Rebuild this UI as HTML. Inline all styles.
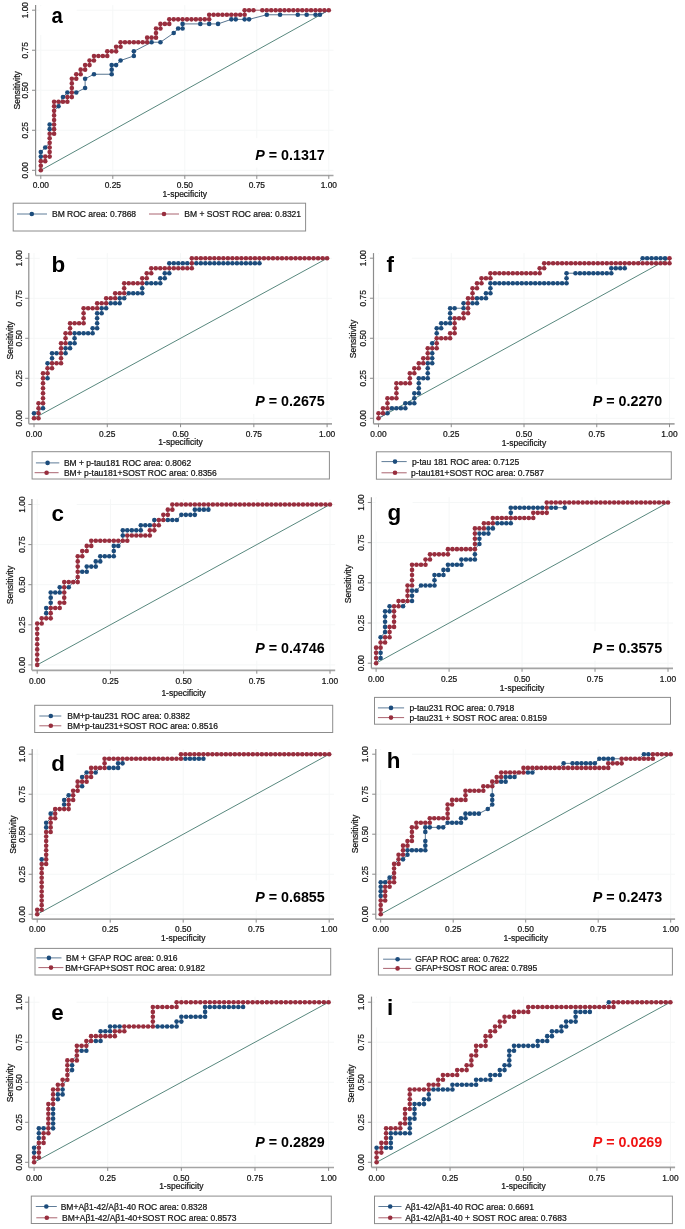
<!DOCTYPE html>
<html><head><meta charset="utf-8"><title>ROC curves</title>
<style>html,body{margin:0;padding:0;background:#fff;}svg{display:block;will-change:transform;filter:blur(0.35px);}text{font-family:"Liberation Sans",sans-serif;}.t{stroke:#141414;stroke-width:0.22px;}</style>
</head><body>
<svg width="685" height="1229" viewBox="0 0 685 1229">
<rect width="685" height="1229" fill="#fff"/>
<line x1="35.6" y1="170.3" x2="333.5" y2="170.3" stroke="#f5f7f7" stroke-width="1"/>
<line x1="40.8" y1="5.1" x2="40.8" y2="175.5" stroke="#f5f7f7" stroke-width="1"/>
<line x1="35.6" y1="130.28" x2="333.5" y2="130.28" stroke="#f5f7f7" stroke-width="1"/>
<line x1="112.8" y1="5.1" x2="112.8" y2="175.5" stroke="#f5f7f7" stroke-width="1"/>
<line x1="35.6" y1="90.25" x2="333.5" y2="90.25" stroke="#f5f7f7" stroke-width="1"/>
<line x1="184.8" y1="5.1" x2="184.8" y2="175.5" stroke="#f5f7f7" stroke-width="1"/>
<line x1="35.6" y1="50.22" x2="333.5" y2="50.22" stroke="#f5f7f7" stroke-width="1"/>
<line x1="256.8" y1="5.1" x2="256.8" y2="175.5" stroke="#f5f7f7" stroke-width="1"/>
<line x1="35.6" y1="10.2" x2="333.5" y2="10.2" stroke="#f5f7f7" stroke-width="1"/>
<line x1="328.8" y1="5.1" x2="328.8" y2="175.5" stroke="#f5f7f7" stroke-width="1"/>
<rect x="39.7" y="6.2" width="37" height="28.8" fill="#fff"/>
<rect x="245.2" y="138.2" width="81" height="29.5" fill="#fff"/>
<line x1="35.6" y1="5.1" x2="35.6" y2="175.5" stroke="#8c8c8c" stroke-width="1.2"/>
<line x1="35.6" y1="175.5" x2="333.5" y2="175.5" stroke="#a4a4a4" stroke-width="1.7"/>
<line x1="32" y1="170.3" x2="35.6" y2="170.3" stroke="#8c8c8c" stroke-width="1"/>
<line x1="40.8" y1="175.5" x2="40.8" y2="178.9" stroke="#8c8c8c" stroke-width="1"/>
<text transform="translate(24.9,170.3) rotate(-90)" y="2.94" font-size="8.4" text-anchor="middle" fill="#141414" class="t">0.00</text>
<text x="40.8" y="188.44" font-size="8.4" text-anchor="middle" fill="#141414" class="t">0.00</text>
<line x1="32" y1="130.28" x2="35.6" y2="130.28" stroke="#8c8c8c" stroke-width="1"/>
<line x1="112.8" y1="175.5" x2="112.8" y2="178.9" stroke="#8c8c8c" stroke-width="1"/>
<text transform="translate(24.9,130.28) rotate(-90)" y="2.94" font-size="8.4" text-anchor="middle" fill="#141414" class="t">0.25</text>
<text x="112.8" y="188.44" font-size="8.4" text-anchor="middle" fill="#141414" class="t">0.25</text>
<line x1="32" y1="90.25" x2="35.6" y2="90.25" stroke="#8c8c8c" stroke-width="1"/>
<line x1="184.8" y1="175.5" x2="184.8" y2="178.9" stroke="#8c8c8c" stroke-width="1"/>
<text transform="translate(24.9,90.25) rotate(-90)" y="2.94" font-size="8.4" text-anchor="middle" fill="#141414" class="t">0.50</text>
<text x="184.8" y="188.44" font-size="8.4" text-anchor="middle" fill="#141414" class="t">0.50</text>
<line x1="32" y1="50.22" x2="35.6" y2="50.22" stroke="#8c8c8c" stroke-width="1"/>
<line x1="256.8" y1="175.5" x2="256.8" y2="178.9" stroke="#8c8c8c" stroke-width="1"/>
<text transform="translate(24.9,50.22) rotate(-90)" y="2.94" font-size="8.4" text-anchor="middle" fill="#141414" class="t">0.75</text>
<text x="256.8" y="188.44" font-size="8.4" text-anchor="middle" fill="#141414" class="t">0.75</text>
<line x1="32" y1="10.2" x2="35.6" y2="10.2" stroke="#8c8c8c" stroke-width="1"/>
<line x1="328.8" y1="175.5" x2="328.8" y2="178.9" stroke="#8c8c8c" stroke-width="1"/>
<text transform="translate(24.9,10.2) rotate(-90)" y="2.94" font-size="8.4" text-anchor="middle" fill="#141414" class="t">1.00</text>
<text x="328.8" y="188.44" font-size="8.4" text-anchor="middle" fill="#141414" class="t">1.00</text>
<text transform="translate(16.7,90.3) rotate(-90)" y="3.06" font-size="8.5" text-anchor="middle" fill="#141414" class="t">Sensitivity</text>
<text x="184.8" y="197.36" font-size="8.5" text-anchor="middle" fill="#141414" class="t">1-specificity</text>
<line x1="40.8" y1="170.3" x2="328.8" y2="10.2" stroke="#58887e" stroke-width="1"/>
<path d="M40.8 161.15L40.8 156.58L40.8 152L45.23 147.43L49.66 142.85M49.66 133.71L49.66 129.13L49.66 124.56L54.09 124.56M54.09 110.83L58.52 106.26L62.95 97.11L67.38 92.54L76.25 92.54L85.11 87.96L85.11 78.81L93.97 74.24L111.69 74.24L111.69 69.67L111.69 65.09L116.12 65.09L120.55 60.52L133.85 55.94L133.85 51.37L151.57 42.22L160.43 42.22L173.72 33.07L178.15 28.5L182.58 28.5L182.58 23.92L200.31 23.92L209.17 23.92L218.03 23.92L231.32 19.35L235.75 19.35L244.62 19.35L249.05 19.35L266.77 14.77L280.06 14.77L297.78 14.77L306.65 14.77L315.51 14.77L319.94 14.77L328.8 10.2" fill="none" stroke="#587590" stroke-width="1"/>
<g fill="#1c4c7c"><circle cx="40.8" cy="156.58" r="2.3"/><circle cx="40.8" cy="152" r="2.3"/><circle cx="45.23" cy="147.43" r="2.3"/><circle cx="49.66" cy="129.13" r="2.3"/><circle cx="49.66" cy="124.56" r="2.3"/><circle cx="58.52" cy="106.26" r="2.3"/><circle cx="62.95" cy="97.11" r="2.3"/><circle cx="67.38" cy="92.54" r="2.3"/><circle cx="76.25" cy="92.54" r="2.3"/><circle cx="85.11" cy="87.96" r="2.3"/><circle cx="85.11" cy="78.81" r="2.3"/><circle cx="93.97" cy="74.24" r="2.3"/><circle cx="111.69" cy="74.24" r="2.3"/><circle cx="111.69" cy="69.67" r="2.3"/><circle cx="111.69" cy="65.09" r="2.3"/><circle cx="116.12" cy="65.09" r="2.3"/><circle cx="120.55" cy="60.52" r="2.3"/><circle cx="133.85" cy="55.94" r="2.3"/><circle cx="133.85" cy="51.37" r="2.3"/><circle cx="151.57" cy="42.22" r="2.3"/><circle cx="160.43" cy="42.22" r="2.3"/><circle cx="173.72" cy="33.07" r="2.3"/><circle cx="178.15" cy="28.5" r="2.3"/><circle cx="182.58" cy="28.5" r="2.3"/><circle cx="182.58" cy="23.92" r="2.3"/><circle cx="200.31" cy="23.92" r="2.3"/><circle cx="209.17" cy="23.92" r="2.3"/><circle cx="218.03" cy="23.92" r="2.3"/><circle cx="231.32" cy="19.35" r="2.3"/><circle cx="235.75" cy="19.35" r="2.3"/><circle cx="244.62" cy="19.35" r="2.3"/><circle cx="249.05" cy="19.35" r="2.3"/><circle cx="266.77" cy="14.77" r="2.3"/><circle cx="280.06" cy="14.77" r="2.3"/><circle cx="297.78" cy="14.77" r="2.3"/><circle cx="306.65" cy="14.77" r="2.3"/><circle cx="315.51" cy="14.77" r="2.3"/><circle cx="319.94" cy="14.77" r="2.3"/></g>
<polyline points="40.8,170.3 40.8,165.73 40.8,161.15 45.23,161.15 45.23,156.58 49.66,156.58 49.66,152 49.66,147.43 49.66,142.85 49.66,138.28 49.66,133.71 54.09,133.71 54.09,129.13 54.09,124.56 54.09,119.98 54.09,115.41 54.09,110.83 54.09,106.26 54.09,101.69 58.52,101.69 62.95,101.69 67.38,101.69 67.38,97.11 71.82,97.11 71.82,92.54 71.82,87.96 71.82,83.39 71.82,78.81 76.25,78.81 76.25,74.24 80.68,74.24 80.68,69.67 85.11,69.67 85.11,65.09 89.54,65.09 89.54,60.52 93.97,60.52 93.97,55.94 98.4,55.94 102.83,55.94 107.26,55.94 107.26,51.37 111.69,51.37 116.12,51.37 116.12,46.79 120.55,46.79 120.55,42.22 124.98,42.22 129.42,42.22 133.85,42.22 138.28,42.22 142.71,42.22 147.14,42.22 147.14,37.65 151.57,37.65 156,37.65 156,33.07 156,28.5 160.43,28.5 160.43,23.92 164.86,23.92 169.29,23.92 169.29,19.35 173.72,19.35 178.15,19.35 182.58,19.35 187.02,19.35 191.45,19.35 195.88,19.35 200.31,19.35 204.74,19.35 209.17,19.35 209.17,14.77 213.6,14.77 218.03,14.77 222.46,14.77 226.89,14.77 231.32,14.77 235.75,14.77 240.18,14.77 244.62,14.77 244.62,10.2 249.05,10.2 253.48,10.2 262.34,10.2 266.77,10.2 271.2,10.2 275.63,10.2 280.06,10.2 284.49,10.2 288.92,10.2 293.35,10.2 297.78,10.2 302.22,10.2 306.65,10.2 311.08,10.2 315.51,10.2 319.94,10.2 324.37,10.2 328.8,10.2" fill="none" stroke="#a0505c" stroke-width="1"/>
<g fill="#982e3e"><circle cx="40.8" cy="170.3" r="2.3"/><circle cx="40.8" cy="165.73" r="2.3"/><circle cx="40.8" cy="161.15" r="2.3"/><circle cx="45.23" cy="161.15" r="2.3"/><circle cx="45.23" cy="156.58" r="2.3"/><circle cx="49.66" cy="156.58" r="2.3"/><circle cx="49.66" cy="152" r="2.3"/><circle cx="49.66" cy="147.43" r="2.3"/><circle cx="49.66" cy="142.85" r="2.3"/><circle cx="49.66" cy="138.28" r="2.3"/><circle cx="49.66" cy="133.71" r="2.3"/><circle cx="54.09" cy="133.71" r="2.3"/><circle cx="54.09" cy="129.13" r="2.3"/><circle cx="54.09" cy="124.56" r="2.3"/><circle cx="54.09" cy="119.98" r="2.3"/><circle cx="54.09" cy="115.41" r="2.3"/><circle cx="54.09" cy="110.83" r="2.3"/><circle cx="54.09" cy="106.26" r="2.3"/><circle cx="54.09" cy="101.69" r="2.3"/><circle cx="58.52" cy="101.69" r="2.3"/><circle cx="62.95" cy="101.69" r="2.3"/><circle cx="67.38" cy="101.69" r="2.3"/><circle cx="67.38" cy="97.11" r="2.3"/><circle cx="71.82" cy="97.11" r="2.3"/><circle cx="71.82" cy="92.54" r="2.3"/><circle cx="71.82" cy="87.96" r="2.3"/><circle cx="71.82" cy="83.39" r="2.3"/><circle cx="71.82" cy="78.81" r="2.3"/><circle cx="76.25" cy="78.81" r="2.3"/><circle cx="76.25" cy="74.24" r="2.3"/><circle cx="80.68" cy="74.24" r="2.3"/><circle cx="80.68" cy="69.67" r="2.3"/><circle cx="85.11" cy="69.67" r="2.3"/><circle cx="85.11" cy="65.09" r="2.3"/><circle cx="89.54" cy="65.09" r="2.3"/><circle cx="89.54" cy="60.52" r="2.3"/><circle cx="93.97" cy="60.52" r="2.3"/><circle cx="93.97" cy="55.94" r="2.3"/><circle cx="98.4" cy="55.94" r="2.3"/><circle cx="102.83" cy="55.94" r="2.3"/><circle cx="107.26" cy="55.94" r="2.3"/><circle cx="107.26" cy="51.37" r="2.3"/><circle cx="111.69" cy="51.37" r="2.3"/><circle cx="116.12" cy="51.37" r="2.3"/><circle cx="116.12" cy="46.79" r="2.3"/><circle cx="120.55" cy="46.79" r="2.3"/><circle cx="120.55" cy="42.22" r="2.3"/><circle cx="124.98" cy="42.22" r="2.3"/><circle cx="129.42" cy="42.22" r="2.3"/><circle cx="133.85" cy="42.22" r="2.3"/><circle cx="138.28" cy="42.22" r="2.3"/><circle cx="142.71" cy="42.22" r="2.3"/><circle cx="147.14" cy="42.22" r="2.3"/><circle cx="147.14" cy="37.65" r="2.3"/><circle cx="151.57" cy="37.65" r="2.3"/><circle cx="156" cy="37.65" r="2.3"/><circle cx="156" cy="33.07" r="2.3"/><circle cx="156" cy="28.5" r="2.3"/><circle cx="160.43" cy="28.5" r="2.3"/><circle cx="160.43" cy="23.92" r="2.3"/><circle cx="164.86" cy="23.92" r="2.3"/><circle cx="169.29" cy="23.92" r="2.3"/><circle cx="169.29" cy="19.35" r="2.3"/><circle cx="173.72" cy="19.35" r="2.3"/><circle cx="178.15" cy="19.35" r="2.3"/><circle cx="182.58" cy="19.35" r="2.3"/><circle cx="187.02" cy="19.35" r="2.3"/><circle cx="191.45" cy="19.35" r="2.3"/><circle cx="195.88" cy="19.35" r="2.3"/><circle cx="200.31" cy="19.35" r="2.3"/><circle cx="204.74" cy="19.35" r="2.3"/><circle cx="209.17" cy="19.35" r="2.3"/><circle cx="209.17" cy="14.77" r="2.3"/><circle cx="213.6" cy="14.77" r="2.3"/><circle cx="218.03" cy="14.77" r="2.3"/><circle cx="222.46" cy="14.77" r="2.3"/><circle cx="226.89" cy="14.77" r="2.3"/><circle cx="231.32" cy="14.77" r="2.3"/><circle cx="235.75" cy="14.77" r="2.3"/><circle cx="240.18" cy="14.77" r="2.3"/><circle cx="244.62" cy="14.77" r="2.3"/><circle cx="244.62" cy="10.2" r="2.3"/><circle cx="249.05" cy="10.2" r="2.3"/><circle cx="253.48" cy="10.2" r="2.3"/><circle cx="262.34" cy="10.2" r="2.3"/><circle cx="266.77" cy="10.2" r="2.3"/><circle cx="271.2" cy="10.2" r="2.3"/><circle cx="275.63" cy="10.2" r="2.3"/><circle cx="280.06" cy="10.2" r="2.3"/><circle cx="284.49" cy="10.2" r="2.3"/><circle cx="288.92" cy="10.2" r="2.3"/><circle cx="293.35" cy="10.2" r="2.3"/><circle cx="297.78" cy="10.2" r="2.3"/><circle cx="302.22" cy="10.2" r="2.3"/><circle cx="306.65" cy="10.2" r="2.3"/><circle cx="311.08" cy="10.2" r="2.3"/><circle cx="315.51" cy="10.2" r="2.3"/><circle cx="319.94" cy="10.2" r="2.3"/><circle cx="324.37" cy="10.2" r="2.3"/><circle cx="328.8" cy="10.2" r="2.3"/></g>
<text transform="translate(51.5,23) scale(0.9,1)" font-size="22.4" font-weight="bold" fill="#000">a</text>
<text x="255.2" y="159.7" font-size="14.3" font-weight="bold" fill="#000"><tspan font-style="italic">P</tspan> = 0.1317</text>
<rect x="13.2" y="203.2" width="292.4" height="27.8" fill="none" stroke="#8c8c8c" stroke-width="1"/>
<line x1="17" y1="214" x2="47" y2="214" stroke="#5f7c98" stroke-width="1"/>
<circle cx="31.8" cy="214" r="2.3" fill="#1c4c7c"/>
<text x="52" y="217.06" font-size="8.5" fill="#141414" class="t">BM ROC area: 0.7868</text>
<line x1="149" y1="214" x2="179" y2="214" stroke="#aa6470" stroke-width="1"/>
<circle cx="164" cy="214" r="2.3" fill="#982e3e"/>
<text x="184.3" y="217.06" font-size="8.5" fill="#141414" class="t">BM + SOST ROC area: 0.8321</text>
<line x1="28.8" y1="418.3" x2="332" y2="418.3" stroke="#f5f7f7" stroke-width="1"/>
<line x1="34" y1="253.1" x2="34" y2="423.8" stroke="#f5f7f7" stroke-width="1"/>
<line x1="28.8" y1="378.3" x2="332" y2="378.3" stroke="#f5f7f7" stroke-width="1"/>
<line x1="107.28" y1="253.1" x2="107.28" y2="423.8" stroke="#f5f7f7" stroke-width="1"/>
<line x1="28.8" y1="338.3" x2="332" y2="338.3" stroke="#f5f7f7" stroke-width="1"/>
<line x1="180.55" y1="253.1" x2="180.55" y2="423.8" stroke="#f5f7f7" stroke-width="1"/>
<line x1="28.8" y1="298.3" x2="332" y2="298.3" stroke="#f5f7f7" stroke-width="1"/>
<line x1="253.83" y1="253.1" x2="253.83" y2="423.8" stroke="#f5f7f7" stroke-width="1"/>
<line x1="28.8" y1="258.3" x2="332" y2="258.3" stroke="#f5f7f7" stroke-width="1"/>
<line x1="327.1" y1="253.1" x2="327.1" y2="423.8" stroke="#f5f7f7" stroke-width="1"/>
<rect x="39.7" y="254.3" width="37" height="29.6" fill="#fff"/>
<rect x="245.2" y="384.5" width="81" height="29.5" fill="#fff"/>
<line x1="28.8" y1="253.1" x2="28.8" y2="423.8" stroke="#8c8c8c" stroke-width="1.2"/>
<line x1="28.8" y1="423.8" x2="332" y2="423.8" stroke="#a4a4a4" stroke-width="1.7"/>
<line x1="25.2" y1="418.3" x2="28.8" y2="418.3" stroke="#8c8c8c" stroke-width="1"/>
<line x1="34" y1="423.8" x2="34" y2="427.2" stroke="#8c8c8c" stroke-width="1"/>
<text transform="translate(18.7,418.3) rotate(-90)" y="2.94" font-size="8.4" text-anchor="middle" fill="#141414" class="t">0.00</text>
<text x="34" y="436.94" font-size="8.4" text-anchor="middle" fill="#141414" class="t">0.00</text>
<line x1="25.2" y1="378.3" x2="28.8" y2="378.3" stroke="#8c8c8c" stroke-width="1"/>
<line x1="107.28" y1="423.8" x2="107.28" y2="427.2" stroke="#8c8c8c" stroke-width="1"/>
<text transform="translate(18.7,378.3) rotate(-90)" y="2.94" font-size="8.4" text-anchor="middle" fill="#141414" class="t">0.25</text>
<text x="107.28" y="436.94" font-size="8.4" text-anchor="middle" fill="#141414" class="t">0.25</text>
<line x1="25.2" y1="338.3" x2="28.8" y2="338.3" stroke="#8c8c8c" stroke-width="1"/>
<line x1="180.55" y1="423.8" x2="180.55" y2="427.2" stroke="#8c8c8c" stroke-width="1"/>
<text transform="translate(18.7,338.3) rotate(-90)" y="2.94" font-size="8.4" text-anchor="middle" fill="#141414" class="t">0.50</text>
<text x="180.55" y="436.94" font-size="8.4" text-anchor="middle" fill="#141414" class="t">0.50</text>
<line x1="25.2" y1="298.3" x2="28.8" y2="298.3" stroke="#8c8c8c" stroke-width="1"/>
<line x1="253.83" y1="423.8" x2="253.83" y2="427.2" stroke="#8c8c8c" stroke-width="1"/>
<text transform="translate(18.7,298.3) rotate(-90)" y="2.94" font-size="8.4" text-anchor="middle" fill="#141414" class="t">0.75</text>
<text x="253.83" y="436.94" font-size="8.4" text-anchor="middle" fill="#141414" class="t">0.75</text>
<line x1="25.2" y1="258.3" x2="28.8" y2="258.3" stroke="#8c8c8c" stroke-width="1"/>
<line x1="327.1" y1="423.8" x2="327.1" y2="427.2" stroke="#8c8c8c" stroke-width="1"/>
<text transform="translate(18.7,258.3) rotate(-90)" y="2.94" font-size="8.4" text-anchor="middle" fill="#141414" class="t">1.00</text>
<text x="327.1" y="436.94" font-size="8.4" text-anchor="middle" fill="#141414" class="t">1.00</text>
<text transform="translate(10,340.3) rotate(-90)" y="3.06" font-size="8.5" text-anchor="middle" fill="#141414" class="t">Sensitivity</text>
<text x="180.55" y="445.36" font-size="8.5" text-anchor="middle" fill="#141414" class="t">1-specificity</text>
<line x1="34" y1="418.3" x2="327.1" y2="258.3" stroke="#58887e" stroke-width="1"/>
<path d="M34 418.3L34 413.3L43.02 408.3L43.02 403.3M43.02 378.3L47.53 378.3L47.53 373.3M47.53 368.3L47.53 363.3L52.04 363.3L52.04 358.3L52.04 353.3L56.55 353.3L61.06 353.3L65.56 353.3L65.56 348.3L70.07 348.3L70.07 343.3L74.58 343.3L74.58 338.3L74.58 333.3L79.09 333.3L83.6 333.3L88.11 333.3L92.62 333.3L92.62 328.3L97.13 328.3L97.13 323.3L97.13 318.3L97.13 313.3L101.64 313.3L101.64 308.3L106.15 308.3L106.15 303.3L110.66 303.3L115.17 303.3L119.68 303.3L119.68 298.3L124.18 298.3L128.69 293.3L133.2 293.3L137.71 293.3L142.22 293.3L142.22 288.3L142.22 283.3L146.73 283.3L151.24 283.3L155.75 283.3L160.26 283.3L160.26 278.3L164.77 278.3L164.77 273.3L169.28 273.3L169.28 268.3L169.28 263.3L173.79 263.3L178.3 263.3L182.8 263.3L187.31 263.3L191.82 263.3L196.33 263.3L200.84 263.3L205.35 263.3L209.86 263.3L214.37 263.3L218.88 263.3L223.39 263.3L227.9 263.3L232.41 263.3L236.92 263.3L241.42 263.3L245.93 263.3L250.44 263.3L254.95 263.3L259.46 263.3L259.46 258.3L327.1 258.3" fill="none" stroke="#587590" stroke-width="1"/>
<g fill="#1c4c7c"><circle cx="34" cy="413.3" r="2.3"/><circle cx="43.02" cy="408.3" r="2.3"/><circle cx="47.53" cy="378.3" r="2.3"/><circle cx="47.53" cy="363.3" r="2.3"/><circle cx="52.04" cy="358.3" r="2.3"/><circle cx="52.04" cy="353.3" r="2.3"/><circle cx="56.55" cy="353.3" r="2.3"/><circle cx="65.56" cy="353.3" r="2.3"/><circle cx="65.56" cy="348.3" r="2.3"/><circle cx="70.07" cy="348.3" r="2.3"/><circle cx="70.07" cy="343.3" r="2.3"/><circle cx="74.58" cy="343.3" r="2.3"/><circle cx="74.58" cy="338.3" r="2.3"/><circle cx="74.58" cy="333.3" r="2.3"/><circle cx="79.09" cy="333.3" r="2.3"/><circle cx="83.6" cy="333.3" r="2.3"/><circle cx="88.11" cy="333.3" r="2.3"/><circle cx="92.62" cy="333.3" r="2.3"/><circle cx="92.62" cy="328.3" r="2.3"/><circle cx="97.13" cy="328.3" r="2.3"/><circle cx="97.13" cy="323.3" r="2.3"/><circle cx="97.13" cy="318.3" r="2.3"/><circle cx="97.13" cy="313.3" r="2.3"/><circle cx="101.64" cy="313.3" r="2.3"/><circle cx="101.64" cy="308.3" r="2.3"/><circle cx="106.15" cy="308.3" r="2.3"/><circle cx="110.66" cy="303.3" r="2.3"/><circle cx="115.17" cy="303.3" r="2.3"/><circle cx="119.68" cy="303.3" r="2.3"/><circle cx="119.68" cy="298.3" r="2.3"/><circle cx="124.18" cy="298.3" r="2.3"/><circle cx="128.69" cy="293.3" r="2.3"/><circle cx="133.2" cy="293.3" r="2.3"/><circle cx="137.71" cy="293.3" r="2.3"/><circle cx="142.22" cy="293.3" r="2.3"/><circle cx="142.22" cy="288.3" r="2.3"/><circle cx="146.73" cy="283.3" r="2.3"/><circle cx="151.24" cy="283.3" r="2.3"/><circle cx="155.75" cy="283.3" r="2.3"/><circle cx="160.26" cy="283.3" r="2.3"/><circle cx="160.26" cy="278.3" r="2.3"/><circle cx="164.77" cy="278.3" r="2.3"/><circle cx="164.77" cy="273.3" r="2.3"/><circle cx="169.28" cy="273.3" r="2.3"/><circle cx="169.28" cy="263.3" r="2.3"/><circle cx="173.79" cy="263.3" r="2.3"/><circle cx="178.3" cy="263.3" r="2.3"/><circle cx="182.8" cy="263.3" r="2.3"/><circle cx="187.31" cy="263.3" r="2.3"/><circle cx="196.33" cy="263.3" r="2.3"/><circle cx="200.84" cy="263.3" r="2.3"/><circle cx="205.35" cy="263.3" r="2.3"/><circle cx="209.86" cy="263.3" r="2.3"/><circle cx="214.37" cy="263.3" r="2.3"/><circle cx="218.88" cy="263.3" r="2.3"/><circle cx="223.39" cy="263.3" r="2.3"/><circle cx="227.9" cy="263.3" r="2.3"/><circle cx="232.41" cy="263.3" r="2.3"/><circle cx="236.92" cy="263.3" r="2.3"/><circle cx="241.42" cy="263.3" r="2.3"/><circle cx="245.93" cy="263.3" r="2.3"/><circle cx="250.44" cy="263.3" r="2.3"/><circle cx="254.95" cy="263.3" r="2.3"/><circle cx="259.46" cy="263.3" r="2.3"/></g>
<polyline points="34,418.3 38.51,418.3 38.51,413.3 38.51,408.3 38.51,403.3 43.02,403.3 43.02,398.3 43.02,393.3 43.02,388.3 43.02,383.3 43.02,378.3 43.02,373.3 47.53,373.3 47.53,368.3 52.04,368.3 52.04,363.3 56.55,363.3 61.06,363.3 61.06,358.3 61.06,353.3 61.06,348.3 61.06,343.3 65.56,343.3 65.56,338.3 65.56,333.3 70.07,333.3 70.07,328.3 70.07,323.3 74.58,323.3 79.09,323.3 83.6,323.3 83.6,318.3 83.6,313.3 83.6,308.3 88.11,308.3 92.62,308.3 97.13,308.3 97.13,303.3 101.64,303.3 106.15,303.3 106.15,298.3 110.66,298.3 115.17,298.3 115.17,293.3 119.68,293.3 124.18,293.3 124.18,288.3 124.18,283.3 128.69,283.3 133.2,283.3 137.71,283.3 142.22,283.3 142.22,278.3 146.73,278.3 146.73,273.3 151.24,273.3 151.24,268.3 155.75,268.3 160.26,268.3 164.77,268.3 169.28,268.3 173.79,268.3 178.3,268.3 182.8,268.3 187.31,268.3 191.82,268.3 191.82,263.3 191.82,258.3 196.33,258.3 200.84,258.3 205.35,258.3 209.86,258.3 214.37,258.3 218.88,258.3 223.39,258.3 227.9,258.3 232.41,258.3 236.92,258.3 241.42,258.3 245.93,258.3 250.44,258.3 254.95,258.3 259.46,258.3 263.97,258.3 268.48,258.3 272.99,258.3 277.5,258.3 282.01,258.3 286.52,258.3 291.03,258.3 295.54,258.3 300.04,258.3 304.55,258.3 309.06,258.3 313.57,258.3 318.08,258.3 322.59,258.3 327.1,258.3" fill="none" stroke="#a0505c" stroke-width="1"/>
<g fill="#982e3e"><circle cx="34" cy="418.3" r="2.3"/><circle cx="38.51" cy="418.3" r="2.3"/><circle cx="38.51" cy="413.3" r="2.3"/><circle cx="38.51" cy="408.3" r="2.3"/><circle cx="38.51" cy="403.3" r="2.3"/><circle cx="43.02" cy="403.3" r="2.3"/><circle cx="43.02" cy="398.3" r="2.3"/><circle cx="43.02" cy="393.3" r="2.3"/><circle cx="43.02" cy="388.3" r="2.3"/><circle cx="43.02" cy="383.3" r="2.3"/><circle cx="43.02" cy="378.3" r="2.3"/><circle cx="43.02" cy="373.3" r="2.3"/><circle cx="47.53" cy="373.3" r="2.3"/><circle cx="47.53" cy="368.3" r="2.3"/><circle cx="52.04" cy="368.3" r="2.3"/><circle cx="52.04" cy="363.3" r="2.3"/><circle cx="56.55" cy="363.3" r="2.3"/><circle cx="61.06" cy="363.3" r="2.3"/><circle cx="61.06" cy="358.3" r="2.3"/><circle cx="61.06" cy="353.3" r="2.3"/><circle cx="61.06" cy="348.3" r="2.3"/><circle cx="61.06" cy="343.3" r="2.3"/><circle cx="65.56" cy="343.3" r="2.3"/><circle cx="65.56" cy="338.3" r="2.3"/><circle cx="65.56" cy="333.3" r="2.3"/><circle cx="70.07" cy="333.3" r="2.3"/><circle cx="70.07" cy="328.3" r="2.3"/><circle cx="70.07" cy="323.3" r="2.3"/><circle cx="74.58" cy="323.3" r="2.3"/><circle cx="79.09" cy="323.3" r="2.3"/><circle cx="83.6" cy="323.3" r="2.3"/><circle cx="83.6" cy="318.3" r="2.3"/><circle cx="83.6" cy="313.3" r="2.3"/><circle cx="83.6" cy="308.3" r="2.3"/><circle cx="88.11" cy="308.3" r="2.3"/><circle cx="92.62" cy="308.3" r="2.3"/><circle cx="97.13" cy="308.3" r="2.3"/><circle cx="97.13" cy="303.3" r="2.3"/><circle cx="101.64" cy="303.3" r="2.3"/><circle cx="106.15" cy="303.3" r="2.3"/><circle cx="106.15" cy="298.3" r="2.3"/><circle cx="110.66" cy="298.3" r="2.3"/><circle cx="115.17" cy="298.3" r="2.3"/><circle cx="115.17" cy="293.3" r="2.3"/><circle cx="119.68" cy="293.3" r="2.3"/><circle cx="124.18" cy="293.3" r="2.3"/><circle cx="124.18" cy="288.3" r="2.3"/><circle cx="124.18" cy="283.3" r="2.3"/><circle cx="128.69" cy="283.3" r="2.3"/><circle cx="133.2" cy="283.3" r="2.3"/><circle cx="137.71" cy="283.3" r="2.3"/><circle cx="142.22" cy="283.3" r="2.3"/><circle cx="142.22" cy="278.3" r="2.3"/><circle cx="146.73" cy="278.3" r="2.3"/><circle cx="146.73" cy="273.3" r="2.3"/><circle cx="151.24" cy="273.3" r="2.3"/><circle cx="151.24" cy="268.3" r="2.3"/><circle cx="155.75" cy="268.3" r="2.3"/><circle cx="160.26" cy="268.3" r="2.3"/><circle cx="164.77" cy="268.3" r="2.3"/><circle cx="169.28" cy="268.3" r="2.3"/><circle cx="173.79" cy="268.3" r="2.3"/><circle cx="178.3" cy="268.3" r="2.3"/><circle cx="182.8" cy="268.3" r="2.3"/><circle cx="187.31" cy="268.3" r="2.3"/><circle cx="191.82" cy="268.3" r="2.3"/><circle cx="191.82" cy="263.3" r="2.3"/><circle cx="191.82" cy="258.3" r="2.3"/><circle cx="196.33" cy="258.3" r="2.3"/><circle cx="200.84" cy="258.3" r="2.3"/><circle cx="205.35" cy="258.3" r="2.3"/><circle cx="209.86" cy="258.3" r="2.3"/><circle cx="214.37" cy="258.3" r="2.3"/><circle cx="218.88" cy="258.3" r="2.3"/><circle cx="223.39" cy="258.3" r="2.3"/><circle cx="227.9" cy="258.3" r="2.3"/><circle cx="232.41" cy="258.3" r="2.3"/><circle cx="236.92" cy="258.3" r="2.3"/><circle cx="241.42" cy="258.3" r="2.3"/><circle cx="245.93" cy="258.3" r="2.3"/><circle cx="250.44" cy="258.3" r="2.3"/><circle cx="254.95" cy="258.3" r="2.3"/><circle cx="259.46" cy="258.3" r="2.3"/><circle cx="263.97" cy="258.3" r="2.3"/><circle cx="268.48" cy="258.3" r="2.3"/><circle cx="272.99" cy="258.3" r="2.3"/><circle cx="277.5" cy="258.3" r="2.3"/><circle cx="282.01" cy="258.3" r="2.3"/><circle cx="286.52" cy="258.3" r="2.3"/><circle cx="291.03" cy="258.3" r="2.3"/><circle cx="295.54" cy="258.3" r="2.3"/><circle cx="300.04" cy="258.3" r="2.3"/><circle cx="304.55" cy="258.3" r="2.3"/><circle cx="309.06" cy="258.3" r="2.3"/><circle cx="313.57" cy="258.3" r="2.3"/><circle cx="318.08" cy="258.3" r="2.3"/><circle cx="322.59" cy="258.3" r="2.3"/><circle cx="327.1" cy="258.3" r="2.3"/></g>
<text transform="translate(51.5,271.9) scale(1.0,1)" font-size="22.4" font-weight="bold" fill="#000">b</text>
<text x="255.2" y="406" font-size="14.3" font-weight="bold" fill="#000"><tspan font-style="italic">P</tspan> = 0.2675</text>
<rect x="32.1" y="451.7" width="297.3" height="27.3" fill="none" stroke="#8c8c8c" stroke-width="1"/>
<line x1="35.9" y1="462.9" x2="59.3" y2="462.9" stroke="#5f7c98" stroke-width="1"/>
<circle cx="47.6" cy="462.9" r="2.3" fill="#1c4c7c"/>
<text x="63.9" y="465.96" font-size="8.5" fill="#141414" class="t">BM + p-tau181 ROC area: 0.8062</text>
<line x1="34.6" y1="472.7" x2="58.6" y2="472.7" stroke="#aa6470" stroke-width="1"/>
<circle cx="46.6" cy="472.7" r="2.3" fill="#982e3e"/>
<text x="63.9" y="475.76" font-size="8.5" fill="#141414" class="t">BM+ p-tau181+SOST ROC area: 0.8356</text>
<line x1="31.9" y1="664.9" x2="335.2" y2="664.9" stroke="#f5f7f7" stroke-width="1"/>
<line x1="37.2" y1="499.1" x2="37.2" y2="670.3" stroke="#f5f7f7" stroke-width="1"/>
<line x1="31.9" y1="624.8" x2="335.2" y2="624.8" stroke="#f5f7f7" stroke-width="1"/>
<line x1="110.4" y1="499.1" x2="110.4" y2="670.3" stroke="#f5f7f7" stroke-width="1"/>
<line x1="31.9" y1="584.7" x2="335.2" y2="584.7" stroke="#f5f7f7" stroke-width="1"/>
<line x1="183.6" y1="499.1" x2="183.6" y2="670.3" stroke="#f5f7f7" stroke-width="1"/>
<line x1="31.9" y1="544.6" x2="335.2" y2="544.6" stroke="#f5f7f7" stroke-width="1"/>
<line x1="256.8" y1="499.1" x2="256.8" y2="670.3" stroke="#f5f7f7" stroke-width="1"/>
<line x1="31.9" y1="504.5" x2="335.2" y2="504.5" stroke="#f5f7f7" stroke-width="1"/>
<line x1="330" y1="499.1" x2="330" y2="670.3" stroke="#f5f7f7" stroke-width="1"/>
<rect x="39.7" y="500.5" width="37" height="32.5" fill="#fff"/>
<rect x="245.2" y="631.1" width="81" height="29.5" fill="#fff"/>
<line x1="31.9" y1="499.1" x2="31.9" y2="670.3" stroke="#8c8c8c" stroke-width="1.2"/>
<line x1="31.9" y1="670.3" x2="335.2" y2="670.3" stroke="#a4a4a4" stroke-width="1.7"/>
<line x1="28.3" y1="664.9" x2="31.9" y2="664.9" stroke="#8c8c8c" stroke-width="1"/>
<line x1="37.2" y1="670.3" x2="37.2" y2="673.7" stroke="#8c8c8c" stroke-width="1"/>
<text transform="translate(21.7,664.9) rotate(-90)" y="2.94" font-size="8.4" text-anchor="middle" fill="#141414" class="t">0.00</text>
<text x="37.2" y="683.94" font-size="8.4" text-anchor="middle" fill="#141414" class="t">0.00</text>
<line x1="28.3" y1="624.8" x2="31.9" y2="624.8" stroke="#8c8c8c" stroke-width="1"/>
<line x1="110.4" y1="670.3" x2="110.4" y2="673.7" stroke="#8c8c8c" stroke-width="1"/>
<text transform="translate(21.7,624.8) rotate(-90)" y="2.94" font-size="8.4" text-anchor="middle" fill="#141414" class="t">0.25</text>
<text x="110.4" y="683.94" font-size="8.4" text-anchor="middle" fill="#141414" class="t">0.25</text>
<line x1="28.3" y1="584.7" x2="31.9" y2="584.7" stroke="#8c8c8c" stroke-width="1"/>
<line x1="183.6" y1="670.3" x2="183.6" y2="673.7" stroke="#8c8c8c" stroke-width="1"/>
<text transform="translate(21.7,584.7) rotate(-90)" y="2.94" font-size="8.4" text-anchor="middle" fill="#141414" class="t">0.50</text>
<text x="183.6" y="683.94" font-size="8.4" text-anchor="middle" fill="#141414" class="t">0.50</text>
<line x1="28.3" y1="544.6" x2="31.9" y2="544.6" stroke="#8c8c8c" stroke-width="1"/>
<line x1="256.8" y1="670.3" x2="256.8" y2="673.7" stroke="#8c8c8c" stroke-width="1"/>
<text transform="translate(21.7,544.6) rotate(-90)" y="2.94" font-size="8.4" text-anchor="middle" fill="#141414" class="t">0.75</text>
<text x="256.8" y="683.94" font-size="8.4" text-anchor="middle" fill="#141414" class="t">0.75</text>
<line x1="28.3" y1="504.5" x2="31.9" y2="504.5" stroke="#8c8c8c" stroke-width="1"/>
<line x1="330" y1="670.3" x2="330" y2="673.7" stroke="#8c8c8c" stroke-width="1"/>
<text transform="translate(21.7,504.5) rotate(-90)" y="2.94" font-size="8.4" text-anchor="middle" fill="#141414" class="t">1.00</text>
<text x="330" y="683.94" font-size="8.4" text-anchor="middle" fill="#141414" class="t">1.00</text>
<text transform="translate(10,585) rotate(-90)" y="3.06" font-size="8.5" text-anchor="middle" fill="#141414" class="t">Sensitivity</text>
<text x="183.6" y="696.26" font-size="8.5" text-anchor="middle" fill="#141414" class="t">1-specificity</text>
<line x1="37.2" y1="664.9" x2="330" y2="504.5" stroke="#58887e" stroke-width="1"/>
<path d="M46.21 618.33L46.21 613.16L46.21 607.98L50.71 607.98L50.71 602.81L50.71 597.64L50.71 592.46L55.22 592.46L59.72 592.46L59.72 587.29L64.23 587.29L68.73 587.29L73.24 582.11L77.74 576.94M77.74 571.76L82.25 571.76L86.75 571.76L86.75 566.59L91.26 566.59L95.76 566.59L95.76 561.42L100.26 561.42L100.26 556.24L104.77 556.24L109.27 556.24L113.78 556.24L113.78 551.07L113.78 545.89L118.28 545.89L122.79 540.72L122.79 535.55L122.79 530.37L127.29 530.37L131.8 530.37L136.3 530.37L140.81 530.37L140.81 525.2L145.31 525.2L149.82 525.2L154.32 525.2L154.32 520.02L158.82 520.02M163.33 520.02L167.83 520.02L172.34 520.02L176.84 520.02L181.35 514.85L185.85 514.85L190.36 514.85L194.86 514.85L194.86 509.67L199.37 509.67L203.87 509.67L208.38 509.67L208.38 504.5L330 504.5" fill="none" stroke="#587590" stroke-width="1"/>
<g fill="#1c4c7c"><circle cx="46.21" cy="613.16" r="2.3"/><circle cx="46.21" cy="607.98" r="2.3"/><circle cx="50.71" cy="602.81" r="2.3"/><circle cx="50.71" cy="597.64" r="2.3"/><circle cx="50.71" cy="592.46" r="2.3"/><circle cx="55.22" cy="592.46" r="2.3"/><circle cx="59.72" cy="592.46" r="2.3"/><circle cx="59.72" cy="587.29" r="2.3"/><circle cx="68.73" cy="587.29" r="2.3"/><circle cx="82.25" cy="571.76" r="2.3"/><circle cx="86.75" cy="571.76" r="2.3"/><circle cx="86.75" cy="566.59" r="2.3"/><circle cx="91.26" cy="566.59" r="2.3"/><circle cx="95.76" cy="566.59" r="2.3"/><circle cx="95.76" cy="561.42" r="2.3"/><circle cx="100.26" cy="561.42" r="2.3"/><circle cx="100.26" cy="556.24" r="2.3"/><circle cx="104.77" cy="556.24" r="2.3"/><circle cx="109.27" cy="556.24" r="2.3"/><circle cx="113.78" cy="556.24" r="2.3"/><circle cx="113.78" cy="551.07" r="2.3"/><circle cx="113.78" cy="545.89" r="2.3"/><circle cx="118.28" cy="545.89" r="2.3"/><circle cx="122.79" cy="535.55" r="2.3"/><circle cx="122.79" cy="530.37" r="2.3"/><circle cx="127.29" cy="530.37" r="2.3"/><circle cx="131.8" cy="530.37" r="2.3"/><circle cx="136.3" cy="530.37" r="2.3"/><circle cx="140.81" cy="530.37" r="2.3"/><circle cx="140.81" cy="525.2" r="2.3"/><circle cx="145.31" cy="525.2" r="2.3"/><circle cx="149.82" cy="525.2" r="2.3"/><circle cx="154.32" cy="520.02" r="2.3"/><circle cx="167.83" cy="520.02" r="2.3"/><circle cx="172.34" cy="520.02" r="2.3"/><circle cx="176.84" cy="520.02" r="2.3"/><circle cx="181.35" cy="514.85" r="2.3"/><circle cx="185.85" cy="514.85" r="2.3"/><circle cx="190.36" cy="514.85" r="2.3"/><circle cx="194.86" cy="514.85" r="2.3"/><circle cx="194.86" cy="509.67" r="2.3"/><circle cx="199.37" cy="509.67" r="2.3"/><circle cx="203.87" cy="509.67" r="2.3"/><circle cx="208.38" cy="509.67" r="2.3"/></g>
<polyline points="37.2,664.9 37.2,659.73 37.2,654.55 37.2,649.38 37.2,644.2 37.2,639.03 37.2,633.85 37.2,628.68 37.2,623.51 41.7,623.51 41.7,618.33 46.21,618.33 50.71,618.33 50.71,613.16 50.71,607.98 55.22,607.98 59.72,607.98 59.72,602.81 64.23,602.81 64.23,597.64 64.23,592.46 64.23,587.29 64.23,582.11 68.73,582.11 73.24,582.11 77.74,582.11 77.74,576.94 77.74,571.76 77.74,566.59 77.74,561.42 77.74,556.24 82.25,556.24 82.25,551.07 86.75,551.07 86.75,545.89 91.26,545.89 91.26,540.72 95.76,540.72 100.26,540.72 104.77,540.72 109.27,540.72 113.78,540.72 118.28,540.72 122.79,540.72 127.29,540.72 127.29,535.55 131.8,535.55 136.3,535.55 140.81,535.55 145.31,535.55 149.82,535.55 149.82,530.37 154.32,530.37 154.32,525.2 158.82,525.2 158.82,520.02 163.33,520.02 163.33,514.85 167.83,514.85 167.83,509.67 172.34,509.67 172.34,504.5 176.84,504.5 181.35,504.5 185.85,504.5 190.36,504.5 194.86,504.5 199.37,504.5 203.87,504.5 208.38,504.5 212.88,504.5 217.38,504.5 221.89,504.5 226.39,504.5 230.9,504.5 235.4,504.5 239.91,504.5 244.41,504.5 248.92,504.5 253.42,504.5 257.93,504.5 262.43,504.5 266.94,504.5 271.44,504.5 275.94,504.5 280.45,504.5 284.95,504.5 289.46,504.5 293.96,504.5 298.47,504.5 302.97,504.5 307.48,504.5 311.98,504.5 316.49,504.5 320.99,504.5 325.5,504.5 330,504.5" fill="none" stroke="#a0505c" stroke-width="1"/>
<g fill="#982e3e"><circle cx="37.2" cy="664.9" r="2.3"/><circle cx="37.2" cy="659.73" r="2.3"/><circle cx="37.2" cy="654.55" r="2.3"/><circle cx="37.2" cy="649.38" r="2.3"/><circle cx="37.2" cy="644.2" r="2.3"/><circle cx="37.2" cy="639.03" r="2.3"/><circle cx="37.2" cy="633.85" r="2.3"/><circle cx="37.2" cy="628.68" r="2.3"/><circle cx="37.2" cy="623.51" r="2.3"/><circle cx="41.7" cy="623.51" r="2.3"/><circle cx="41.7" cy="618.33" r="2.3"/><circle cx="46.21" cy="618.33" r="2.3"/><circle cx="50.71" cy="618.33" r="2.3"/><circle cx="50.71" cy="613.16" r="2.3"/><circle cx="50.71" cy="607.98" r="2.3"/><circle cx="55.22" cy="607.98" r="2.3"/><circle cx="59.72" cy="607.98" r="2.3"/><circle cx="59.72" cy="602.81" r="2.3"/><circle cx="64.23" cy="602.81" r="2.3"/><circle cx="64.23" cy="597.64" r="2.3"/><circle cx="64.23" cy="592.46" r="2.3"/><circle cx="64.23" cy="587.29" r="2.3"/><circle cx="64.23" cy="582.11" r="2.3"/><circle cx="68.73" cy="582.11" r="2.3"/><circle cx="73.24" cy="582.11" r="2.3"/><circle cx="77.74" cy="582.11" r="2.3"/><circle cx="77.74" cy="576.94" r="2.3"/><circle cx="77.74" cy="571.76" r="2.3"/><circle cx="77.74" cy="566.59" r="2.3"/><circle cx="77.74" cy="561.42" r="2.3"/><circle cx="77.74" cy="556.24" r="2.3"/><circle cx="82.25" cy="556.24" r="2.3"/><circle cx="82.25" cy="551.07" r="2.3"/><circle cx="86.75" cy="551.07" r="2.3"/><circle cx="86.75" cy="545.89" r="2.3"/><circle cx="91.26" cy="545.89" r="2.3"/><circle cx="91.26" cy="540.72" r="2.3"/><circle cx="95.76" cy="540.72" r="2.3"/><circle cx="100.26" cy="540.72" r="2.3"/><circle cx="104.77" cy="540.72" r="2.3"/><circle cx="109.27" cy="540.72" r="2.3"/><circle cx="113.78" cy="540.72" r="2.3"/><circle cx="118.28" cy="540.72" r="2.3"/><circle cx="122.79" cy="540.72" r="2.3"/><circle cx="127.29" cy="540.72" r="2.3"/><circle cx="127.29" cy="535.55" r="2.3"/><circle cx="131.8" cy="535.55" r="2.3"/><circle cx="136.3" cy="535.55" r="2.3"/><circle cx="140.81" cy="535.55" r="2.3"/><circle cx="145.31" cy="535.55" r="2.3"/><circle cx="149.82" cy="535.55" r="2.3"/><circle cx="149.82" cy="530.37" r="2.3"/><circle cx="154.32" cy="530.37" r="2.3"/><circle cx="154.32" cy="525.2" r="2.3"/><circle cx="158.82" cy="525.2" r="2.3"/><circle cx="158.82" cy="520.02" r="2.3"/><circle cx="163.33" cy="520.02" r="2.3"/><circle cx="163.33" cy="514.85" r="2.3"/><circle cx="167.83" cy="514.85" r="2.3"/><circle cx="167.83" cy="509.67" r="2.3"/><circle cx="172.34" cy="509.67" r="2.3"/><circle cx="172.34" cy="504.5" r="2.3"/><circle cx="176.84" cy="504.5" r="2.3"/><circle cx="181.35" cy="504.5" r="2.3"/><circle cx="185.85" cy="504.5" r="2.3"/><circle cx="190.36" cy="504.5" r="2.3"/><circle cx="194.86" cy="504.5" r="2.3"/><circle cx="199.37" cy="504.5" r="2.3"/><circle cx="203.87" cy="504.5" r="2.3"/><circle cx="208.38" cy="504.5" r="2.3"/><circle cx="212.88" cy="504.5" r="2.3"/><circle cx="217.38" cy="504.5" r="2.3"/><circle cx="221.89" cy="504.5" r="2.3"/><circle cx="226.39" cy="504.5" r="2.3"/><circle cx="230.9" cy="504.5" r="2.3"/><circle cx="235.4" cy="504.5" r="2.3"/><circle cx="239.91" cy="504.5" r="2.3"/><circle cx="244.41" cy="504.5" r="2.3"/><circle cx="248.92" cy="504.5" r="2.3"/><circle cx="253.42" cy="504.5" r="2.3"/><circle cx="257.93" cy="504.5" r="2.3"/><circle cx="262.43" cy="504.5" r="2.3"/><circle cx="266.94" cy="504.5" r="2.3"/><circle cx="271.44" cy="504.5" r="2.3"/><circle cx="275.94" cy="504.5" r="2.3"/><circle cx="280.45" cy="504.5" r="2.3"/><circle cx="284.95" cy="504.5" r="2.3"/><circle cx="289.46" cy="504.5" r="2.3"/><circle cx="293.96" cy="504.5" r="2.3"/><circle cx="298.47" cy="504.5" r="2.3"/><circle cx="302.97" cy="504.5" r="2.3"/><circle cx="307.48" cy="504.5" r="2.3"/><circle cx="311.98" cy="504.5" r="2.3"/><circle cx="316.49" cy="504.5" r="2.3"/><circle cx="320.99" cy="504.5" r="2.3"/><circle cx="325.5" cy="504.5" r="2.3"/><circle cx="330" cy="504.5" r="2.3"/></g>
<text transform="translate(51.5,521) scale(1.0,1)" font-size="22.4" font-weight="bold" fill="#000">c</text>
<text x="255.2" y="652.6" font-size="14.3" font-weight="bold" fill="#000"><tspan font-style="italic">P</tspan> = 0.4746</text>
<rect x="34.7" y="705.3" width="298" height="27.2" fill="none" stroke="#8c8c8c" stroke-width="1"/>
<line x1="39.3" y1="716" x2="61.3" y2="716" stroke="#5f7c98" stroke-width="1"/>
<circle cx="50.8" cy="716" r="2.3" fill="#1c4c7c"/>
<text x="67.3" y="719.06" font-size="8.5" fill="#141414" class="t">BM+p-tau231 ROC area: 0.8382</text>
<line x1="39.3" y1="725.8" x2="61.3" y2="725.8" stroke="#aa6470" stroke-width="1"/>
<circle cx="50.8" cy="725.8" r="2.3" fill="#982e3e"/>
<text x="67.3" y="728.86" font-size="8.5" fill="#141414" class="t">BM+p-tau231+SOST ROC area: 0.8516</text>
<line x1="32.2" y1="914.3" x2="334" y2="914.3" stroke="#f5f7f7" stroke-width="1"/>
<line x1="37.2" y1="749.1" x2="37.2" y2="919.2" stroke="#f5f7f7" stroke-width="1"/>
<line x1="32.2" y1="874.27" x2="334" y2="874.27" stroke="#f5f7f7" stroke-width="1"/>
<line x1="110.2" y1="749.1" x2="110.2" y2="919.2" stroke="#f5f7f7" stroke-width="1"/>
<line x1="32.2" y1="834.25" x2="334" y2="834.25" stroke="#f5f7f7" stroke-width="1"/>
<line x1="183.2" y1="749.1" x2="183.2" y2="919.2" stroke="#f5f7f7" stroke-width="1"/>
<line x1="32.2" y1="794.23" x2="334" y2="794.23" stroke="#f5f7f7" stroke-width="1"/>
<line x1="256.2" y1="749.1" x2="256.2" y2="919.2" stroke="#f5f7f7" stroke-width="1"/>
<line x1="32.2" y1="754.2" x2="334" y2="754.2" stroke="#f5f7f7" stroke-width="1"/>
<line x1="329.2" y1="749.1" x2="329.2" y2="919.2" stroke="#f5f7f7" stroke-width="1"/>
<rect x="39.5" y="750.2" width="37" height="32.5" fill="#fff"/>
<rect x="245.2" y="880.3" width="81" height="29.5" fill="#fff"/>
<line x1="32.2" y1="749.1" x2="32.2" y2="919.2" stroke="#8c8c8c" stroke-width="1.2"/>
<line x1="32.2" y1="919.2" x2="334" y2="919.2" stroke="#a4a4a4" stroke-width="1.7"/>
<line x1="28.6" y1="914.3" x2="32.2" y2="914.3" stroke="#8c8c8c" stroke-width="1"/>
<line x1="37.2" y1="919.2" x2="37.2" y2="922.6" stroke="#8c8c8c" stroke-width="1"/>
<text transform="translate(21.7,914.3) rotate(-90)" y="2.94" font-size="8.4" text-anchor="middle" fill="#141414" class="t">0.00</text>
<text x="37.2" y="932.44" font-size="8.4" text-anchor="middle" fill="#141414" class="t">0.00</text>
<line x1="28.6" y1="874.27" x2="32.2" y2="874.27" stroke="#8c8c8c" stroke-width="1"/>
<line x1="110.2" y1="919.2" x2="110.2" y2="922.6" stroke="#8c8c8c" stroke-width="1"/>
<text transform="translate(21.7,874.27) rotate(-90)" y="2.94" font-size="8.4" text-anchor="middle" fill="#141414" class="t">0.25</text>
<text x="110.2" y="932.44" font-size="8.4" text-anchor="middle" fill="#141414" class="t">0.25</text>
<line x1="28.6" y1="834.25" x2="32.2" y2="834.25" stroke="#8c8c8c" stroke-width="1"/>
<line x1="183.2" y1="919.2" x2="183.2" y2="922.6" stroke="#8c8c8c" stroke-width="1"/>
<text transform="translate(21.7,834.25) rotate(-90)" y="2.94" font-size="8.4" text-anchor="middle" fill="#141414" class="t">0.50</text>
<text x="183.2" y="932.44" font-size="8.4" text-anchor="middle" fill="#141414" class="t">0.50</text>
<line x1="28.6" y1="794.23" x2="32.2" y2="794.23" stroke="#8c8c8c" stroke-width="1"/>
<line x1="256.2" y1="919.2" x2="256.2" y2="922.6" stroke="#8c8c8c" stroke-width="1"/>
<text transform="translate(21.7,794.23) rotate(-90)" y="2.94" font-size="8.4" text-anchor="middle" fill="#141414" class="t">0.75</text>
<text x="256.2" y="932.44" font-size="8.4" text-anchor="middle" fill="#141414" class="t">0.75</text>
<line x1="28.6" y1="754.2" x2="32.2" y2="754.2" stroke="#8c8c8c" stroke-width="1"/>
<line x1="329.2" y1="919.2" x2="329.2" y2="922.6" stroke="#8c8c8c" stroke-width="1"/>
<text transform="translate(21.7,754.2) rotate(-90)" y="2.94" font-size="8.4" text-anchor="middle" fill="#141414" class="t">1.00</text>
<text x="329.2" y="932.44" font-size="8.4" text-anchor="middle" fill="#141414" class="t">1.00</text>
<text transform="translate(13,834.6) rotate(-90)" y="3.06" font-size="8.5" text-anchor="middle" fill="#141414" class="t">Sensitivity</text>
<text x="183.2" y="940.96" font-size="8.5" text-anchor="middle" fill="#141414" class="t">1-specificity</text>
<line x1="37.2" y1="914.3" x2="329.2" y2="754.2" stroke="#58887e" stroke-width="1"/>
<path d="M41.69 863.98L41.69 859.41L46.18 859.41M46.18 831.96L46.18 827.39L46.18 822.81L50.68 818.24L50.68 813.67L55.17 809.09M64.15 809.09L64.15 804.52L64.15 799.94L68.65 795.37L73.14 795.37M77.63 786.22L82.12 786.22L82.12 781.65L82.12 777.07L86.62 772.5L91.11 772.5L95.6 772.5L100.09 767.92M104.58 767.92L109.08 767.92L113.57 767.92L118.06 767.92L118.06 763.35L122.55 763.35L122.55 758.77M180.95 758.77L185.45 758.77L189.94 758.77L194.43 758.77L198.92 758.77L203.42 758.77L203.42 754.2L329.2 754.2" fill="none" stroke="#587590" stroke-width="1"/>
<g fill="#1c4c7c"><circle cx="41.69" cy="859.41" r="2.3"/><circle cx="46.18" cy="827.39" r="2.3"/><circle cx="46.18" cy="822.81" r="2.3"/><circle cx="50.68" cy="813.67" r="2.3"/><circle cx="64.15" cy="804.52" r="2.3"/><circle cx="64.15" cy="799.94" r="2.3"/><circle cx="68.65" cy="795.37" r="2.3"/><circle cx="82.12" cy="786.22" r="2.3"/><circle cx="82.12" cy="777.07" r="2.3"/><circle cx="86.62" cy="772.5" r="2.3"/><circle cx="95.6" cy="772.5" r="2.3"/><circle cx="109.08" cy="767.92" r="2.3"/><circle cx="113.57" cy="767.92" r="2.3"/><circle cx="118.06" cy="767.92" r="2.3"/><circle cx="118.06" cy="763.35" r="2.3"/><circle cx="122.55" cy="763.35" r="2.3"/><circle cx="185.45" cy="758.77" r="2.3"/><circle cx="189.94" cy="758.77" r="2.3"/><circle cx="194.43" cy="758.77" r="2.3"/><circle cx="198.92" cy="758.77" r="2.3"/><circle cx="203.42" cy="758.77" r="2.3"/></g>
<polyline points="37.2,914.3 37.2,909.73 41.69,909.73 41.69,905.15 41.69,900.58 41.69,896 41.69,891.43 41.69,886.85 41.69,882.28 41.69,877.71 41.69,873.13 41.69,868.56 41.69,863.98 46.18,863.98 46.18,859.41 46.18,854.83 46.18,850.26 46.18,845.69 46.18,841.11 46.18,836.54 46.18,831.96 50.68,831.96 50.68,827.39 50.68,822.81 50.68,818.24 55.17,818.24 55.17,813.67 55.17,809.09 59.66,809.09 64.15,809.09 68.65,809.09 68.65,804.52 68.65,799.94 73.14,799.94 73.14,795.37 73.14,790.79 77.63,790.79 77.63,786.22 77.63,781.65 82.12,781.65 86.62,781.65 86.62,777.07 91.11,777.07 91.11,772.5 91.11,767.92 95.6,767.92 100.09,767.92 104.58,767.92 104.58,763.35 104.58,758.77 109.08,758.77 113.57,758.77 118.06,758.77 122.55,758.77 127.05,758.77 131.54,758.77 136.03,758.77 140.52,758.77 145.02,758.77 149.51,758.77 154,758.77 158.49,758.77 162.98,758.77 167.48,758.77 171.97,758.77 176.46,758.77 180.95,758.77 180.95,754.2 185.45,754.2 189.94,754.2 194.43,754.2 198.92,754.2 203.42,754.2 207.91,754.2 212.4,754.2 216.89,754.2 221.38,754.2 225.88,754.2 230.37,754.2 234.86,754.2 239.35,754.2 243.85,754.2 248.34,754.2 252.83,754.2 257.32,754.2 261.82,754.2 266.31,754.2 270.8,754.2 275.29,754.2 279.78,754.2 284.28,754.2 288.77,754.2 293.26,754.2 297.75,754.2 302.25,754.2 306.74,754.2 311.23,754.2 315.72,754.2 320.22,754.2 324.71,754.2 329.2,754.2" fill="none" stroke="#a0505c" stroke-width="1"/>
<g fill="#982e3e"><circle cx="37.2" cy="914.3" r="2.3"/><circle cx="37.2" cy="909.73" r="2.3"/><circle cx="41.69" cy="909.73" r="2.3"/><circle cx="41.69" cy="905.15" r="2.3"/><circle cx="41.69" cy="900.58" r="2.3"/><circle cx="41.69" cy="896" r="2.3"/><circle cx="41.69" cy="891.43" r="2.3"/><circle cx="41.69" cy="886.85" r="2.3"/><circle cx="41.69" cy="882.28" r="2.3"/><circle cx="41.69" cy="877.71" r="2.3"/><circle cx="41.69" cy="873.13" r="2.3"/><circle cx="41.69" cy="868.56" r="2.3"/><circle cx="41.69" cy="863.98" r="2.3"/><circle cx="46.18" cy="863.98" r="2.3"/><circle cx="46.18" cy="859.41" r="2.3"/><circle cx="46.18" cy="854.83" r="2.3"/><circle cx="46.18" cy="850.26" r="2.3"/><circle cx="46.18" cy="845.69" r="2.3"/><circle cx="46.18" cy="841.11" r="2.3"/><circle cx="46.18" cy="836.54" r="2.3"/><circle cx="46.18" cy="831.96" r="2.3"/><circle cx="50.68" cy="831.96" r="2.3"/><circle cx="50.68" cy="827.39" r="2.3"/><circle cx="50.68" cy="822.81" r="2.3"/><circle cx="50.68" cy="818.24" r="2.3"/><circle cx="55.17" cy="818.24" r="2.3"/><circle cx="55.17" cy="813.67" r="2.3"/><circle cx="55.17" cy="809.09" r="2.3"/><circle cx="59.66" cy="809.09" r="2.3"/><circle cx="64.15" cy="809.09" r="2.3"/><circle cx="68.65" cy="809.09" r="2.3"/><circle cx="68.65" cy="804.52" r="2.3"/><circle cx="68.65" cy="799.94" r="2.3"/><circle cx="73.14" cy="799.94" r="2.3"/><circle cx="73.14" cy="795.37" r="2.3"/><circle cx="73.14" cy="790.79" r="2.3"/><circle cx="77.63" cy="790.79" r="2.3"/><circle cx="77.63" cy="786.22" r="2.3"/><circle cx="77.63" cy="781.65" r="2.3"/><circle cx="82.12" cy="781.65" r="2.3"/><circle cx="86.62" cy="781.65" r="2.3"/><circle cx="86.62" cy="777.07" r="2.3"/><circle cx="91.11" cy="777.07" r="2.3"/><circle cx="91.11" cy="772.5" r="2.3"/><circle cx="91.11" cy="767.92" r="2.3"/><circle cx="95.6" cy="767.92" r="2.3"/><circle cx="100.09" cy="767.92" r="2.3"/><circle cx="104.58" cy="767.92" r="2.3"/><circle cx="104.58" cy="763.35" r="2.3"/><circle cx="104.58" cy="758.77" r="2.3"/><circle cx="109.08" cy="758.77" r="2.3"/><circle cx="113.57" cy="758.77" r="2.3"/><circle cx="118.06" cy="758.77" r="2.3"/><circle cx="122.55" cy="758.77" r="2.3"/><circle cx="127.05" cy="758.77" r="2.3"/><circle cx="131.54" cy="758.77" r="2.3"/><circle cx="136.03" cy="758.77" r="2.3"/><circle cx="140.52" cy="758.77" r="2.3"/><circle cx="145.02" cy="758.77" r="2.3"/><circle cx="149.51" cy="758.77" r="2.3"/><circle cx="154" cy="758.77" r="2.3"/><circle cx="158.49" cy="758.77" r="2.3"/><circle cx="162.98" cy="758.77" r="2.3"/><circle cx="167.48" cy="758.77" r="2.3"/><circle cx="171.97" cy="758.77" r="2.3"/><circle cx="176.46" cy="758.77" r="2.3"/><circle cx="180.95" cy="758.77" r="2.3"/><circle cx="180.95" cy="754.2" r="2.3"/><circle cx="185.45" cy="754.2" r="2.3"/><circle cx="189.94" cy="754.2" r="2.3"/><circle cx="194.43" cy="754.2" r="2.3"/><circle cx="198.92" cy="754.2" r="2.3"/><circle cx="203.42" cy="754.2" r="2.3"/><circle cx="207.91" cy="754.2" r="2.3"/><circle cx="212.4" cy="754.2" r="2.3"/><circle cx="216.89" cy="754.2" r="2.3"/><circle cx="221.38" cy="754.2" r="2.3"/><circle cx="225.88" cy="754.2" r="2.3"/><circle cx="230.37" cy="754.2" r="2.3"/><circle cx="234.86" cy="754.2" r="2.3"/><circle cx="239.35" cy="754.2" r="2.3"/><circle cx="243.85" cy="754.2" r="2.3"/><circle cx="248.34" cy="754.2" r="2.3"/><circle cx="252.83" cy="754.2" r="2.3"/><circle cx="257.32" cy="754.2" r="2.3"/><circle cx="261.82" cy="754.2" r="2.3"/><circle cx="266.31" cy="754.2" r="2.3"/><circle cx="270.8" cy="754.2" r="2.3"/><circle cx="275.29" cy="754.2" r="2.3"/><circle cx="279.78" cy="754.2" r="2.3"/><circle cx="284.28" cy="754.2" r="2.3"/><circle cx="288.77" cy="754.2" r="2.3"/><circle cx="293.26" cy="754.2" r="2.3"/><circle cx="297.75" cy="754.2" r="2.3"/><circle cx="302.25" cy="754.2" r="2.3"/><circle cx="306.74" cy="754.2" r="2.3"/><circle cx="311.23" cy="754.2" r="2.3"/><circle cx="315.72" cy="754.2" r="2.3"/><circle cx="320.22" cy="754.2" r="2.3"/><circle cx="324.71" cy="754.2" r="2.3"/><circle cx="329.2" cy="754.2" r="2.3"/></g>
<text transform="translate(51.3,770.7) scale(1.0,1)" font-size="22.4" font-weight="bold" fill="#000">d</text>
<text x="255.2" y="901.8" font-size="14.3" font-weight="bold" fill="#000"><tspan font-style="italic">P</tspan> = 0.6855</text>
<rect x="35" y="948.4" width="295.7" height="26.6" fill="none" stroke="#8c8c8c" stroke-width="1"/>
<line x1="36.3" y1="957.9" x2="61.5" y2="957.9" stroke="#5f7c98" stroke-width="1"/>
<circle cx="48.9" cy="957.9" r="2.3" fill="#1c4c7c"/>
<text x="66" y="960.96" font-size="8.5" fill="#141414" class="t">BM + GFAP ROC area: 0.916</text>
<line x1="38.4" y1="967.6" x2="63.4" y2="967.6" stroke="#aa6470" stroke-width="1"/>
<circle cx="51" cy="967.6" r="2.3" fill="#982e3e"/>
<text x="65.2" y="970.66" font-size="8.5" fill="#141414" class="t">BM+GFAP+SOST ROC area: 0.9182</text>
<line x1="28.7" y1="1162.3" x2="334" y2="1162.3" stroke="#f5f7f7" stroke-width="1"/>
<line x1="34.1" y1="996.6" x2="34.1" y2="1167.5" stroke="#f5f7f7" stroke-width="1"/>
<line x1="28.7" y1="1122.28" x2="334" y2="1122.28" stroke="#f5f7f7" stroke-width="1"/>
<line x1="107.72" y1="996.6" x2="107.72" y2="1167.5" stroke="#f5f7f7" stroke-width="1"/>
<line x1="28.7" y1="1082.25" x2="334" y2="1082.25" stroke="#f5f7f7" stroke-width="1"/>
<line x1="181.35" y1="996.6" x2="181.35" y2="1167.5" stroke="#f5f7f7" stroke-width="1"/>
<line x1="28.7" y1="1042.22" x2="334" y2="1042.22" stroke="#f5f7f7" stroke-width="1"/>
<line x1="254.97" y1="996.6" x2="254.97" y2="1167.5" stroke="#f5f7f7" stroke-width="1"/>
<line x1="28.7" y1="1002.2" x2="334" y2="1002.2" stroke="#f5f7f7" stroke-width="1"/>
<line x1="328.6" y1="996.6" x2="328.6" y2="1167.5" stroke="#f5f7f7" stroke-width="1"/>
<rect x="39.5" y="998.2" width="37" height="34.1" fill="#fff"/>
<rect x="245.2" y="1125.3" width="81" height="29.5" fill="#fff"/>
<line x1="28.7" y1="996.6" x2="28.7" y2="1167.5" stroke="#8c8c8c" stroke-width="1.2"/>
<line x1="28.7" y1="1167.5" x2="334" y2="1167.5" stroke="#a4a4a4" stroke-width="1.7"/>
<line x1="25.1" y1="1162.3" x2="28.7" y2="1162.3" stroke="#8c8c8c" stroke-width="1"/>
<line x1="34.1" y1="1167.5" x2="34.1" y2="1170.9" stroke="#8c8c8c" stroke-width="1"/>
<text transform="translate(18.7,1162.3) rotate(-90)" y="2.94" font-size="8.4" text-anchor="middle" fill="#141414" class="t">0.00</text>
<text x="34.1" y="1180.94" font-size="8.4" text-anchor="middle" fill="#141414" class="t">0.00</text>
<line x1="25.1" y1="1122.28" x2="28.7" y2="1122.28" stroke="#8c8c8c" stroke-width="1"/>
<line x1="107.72" y1="1167.5" x2="107.72" y2="1170.9" stroke="#8c8c8c" stroke-width="1"/>
<text transform="translate(18.7,1122.28) rotate(-90)" y="2.94" font-size="8.4" text-anchor="middle" fill="#141414" class="t">0.25</text>
<text x="107.72" y="1180.94" font-size="8.4" text-anchor="middle" fill="#141414" class="t">0.25</text>
<line x1="25.1" y1="1082.25" x2="28.7" y2="1082.25" stroke="#8c8c8c" stroke-width="1"/>
<line x1="181.35" y1="1167.5" x2="181.35" y2="1170.9" stroke="#8c8c8c" stroke-width="1"/>
<text transform="translate(18.7,1082.25) rotate(-90)" y="2.94" font-size="8.4" text-anchor="middle" fill="#141414" class="t">0.50</text>
<text x="181.35" y="1180.94" font-size="8.4" text-anchor="middle" fill="#141414" class="t">0.50</text>
<line x1="25.1" y1="1042.22" x2="28.7" y2="1042.22" stroke="#8c8c8c" stroke-width="1"/>
<line x1="254.97" y1="1167.5" x2="254.97" y2="1170.9" stroke="#8c8c8c" stroke-width="1"/>
<text transform="translate(18.7,1042.22) rotate(-90)" y="2.94" font-size="8.4" text-anchor="middle" fill="#141414" class="t">0.75</text>
<text x="254.97" y="1180.94" font-size="8.4" text-anchor="middle" fill="#141414" class="t">0.75</text>
<line x1="25.1" y1="1002.2" x2="28.7" y2="1002.2" stroke="#8c8c8c" stroke-width="1"/>
<line x1="328.6" y1="1167.5" x2="328.6" y2="1170.9" stroke="#8c8c8c" stroke-width="1"/>
<text transform="translate(18.7,1002.2) rotate(-90)" y="2.94" font-size="8.4" text-anchor="middle" fill="#141414" class="t">1.00</text>
<text x="328.6" y="1180.94" font-size="8.4" text-anchor="middle" fill="#141414" class="t">1.00</text>
<text transform="translate(10,1083) rotate(-90)" y="3.06" font-size="8.5" text-anchor="middle" fill="#141414" class="t">Sensitivity</text>
<text x="181.35" y="1189.16" font-size="8.5" text-anchor="middle" fill="#141414" class="t">1-specificity</text>
<line x1="34.1" y1="1162.3" x2="328.6" y2="1002.2" stroke="#58887e" stroke-width="1"/>
<path d="M34.1 1157.45L34.1 1152.6L34.1 1147.75L38.85 1142.89L38.85 1138.04L38.85 1133.19L38.85 1128.34L43.6 1128.34L48.35 1128.34L53.1 1128.34L53.1 1123.49L53.1 1118.64L53.1 1113.78L53.1 1108.93L53.1 1104.08M53.1 1099.23L57.85 1099.23L57.85 1094.38L62.6 1094.38L62.6 1089.53L62.6 1084.68L67.35 1079.82M67.35 1074.97L72.1 1070.12L72.1 1065.27L72.1 1060.42L76.85 1055.57M76.85 1050.72L81.6 1050.72L86.35 1050.72L86.35 1045.86L91.1 1041.01L95.85 1041.01L100.6 1041.01L100.6 1036.16L100.6 1031.31L105.35 1031.31L110.1 1031.31L110.1 1026.46L114.85 1026.46L119.6 1026.46L124.35 1026.46M152.85 1026.46L157.6 1026.46L162.35 1026.46L167.1 1026.46L171.85 1026.46L176.6 1026.46L176.6 1021.61L181.35 1021.61L181.35 1016.75L186.1 1016.75L190.85 1016.75L195.6 1016.75L200.35 1016.75L205.1 1016.75L205.1 1011.9L205.1 1007.05L209.85 1007.05L214.6 1007.05L219.35 1007.05L224.1 1007.05L228.85 1007.05L233.6 1007.05L238.35 1007.05L243.1 1007.05L243.1 1002.2L328.6 1002.2" fill="none" stroke="#587590" stroke-width="1"/>
<g fill="#1c4c7c"><circle cx="34.1" cy="1152.6" r="2.3"/><circle cx="34.1" cy="1147.75" r="2.3"/><circle cx="38.85" cy="1138.04" r="2.3"/><circle cx="38.85" cy="1133.19" r="2.3"/><circle cx="38.85" cy="1128.34" r="2.3"/><circle cx="43.6" cy="1128.34" r="2.3"/><circle cx="53.1" cy="1128.34" r="2.3"/><circle cx="53.1" cy="1123.49" r="2.3"/><circle cx="53.1" cy="1118.64" r="2.3"/><circle cx="53.1" cy="1113.78" r="2.3"/><circle cx="53.1" cy="1108.93" r="2.3"/><circle cx="57.85" cy="1099.23" r="2.3"/><circle cx="57.85" cy="1094.38" r="2.3"/><circle cx="62.6" cy="1094.38" r="2.3"/><circle cx="62.6" cy="1089.53" r="2.3"/><circle cx="72.1" cy="1070.12" r="2.3"/><circle cx="72.1" cy="1065.27" r="2.3"/><circle cx="81.6" cy="1050.72" r="2.3"/><circle cx="86.35" cy="1050.72" r="2.3"/><circle cx="95.85" cy="1041.01" r="2.3"/><circle cx="100.6" cy="1041.01" r="2.3"/><circle cx="100.6" cy="1031.31" r="2.3"/><circle cx="105.35" cy="1031.31" r="2.3"/><circle cx="110.1" cy="1031.31" r="2.3"/><circle cx="110.1" cy="1026.46" r="2.3"/><circle cx="114.85" cy="1026.46" r="2.3"/><circle cx="119.6" cy="1026.46" r="2.3"/><circle cx="157.6" cy="1026.46" r="2.3"/><circle cx="162.35" cy="1026.46" r="2.3"/><circle cx="167.1" cy="1026.46" r="2.3"/><circle cx="171.85" cy="1026.46" r="2.3"/><circle cx="176.6" cy="1026.46" r="2.3"/><circle cx="176.6" cy="1021.61" r="2.3"/><circle cx="181.35" cy="1021.61" r="2.3"/><circle cx="181.35" cy="1016.75" r="2.3"/><circle cx="186.1" cy="1016.75" r="2.3"/><circle cx="190.85" cy="1016.75" r="2.3"/><circle cx="195.6" cy="1016.75" r="2.3"/><circle cx="200.35" cy="1016.75" r="2.3"/><circle cx="205.1" cy="1016.75" r="2.3"/><circle cx="205.1" cy="1011.9" r="2.3"/><circle cx="205.1" cy="1007.05" r="2.3"/><circle cx="209.85" cy="1007.05" r="2.3"/><circle cx="214.6" cy="1007.05" r="2.3"/><circle cx="219.35" cy="1007.05" r="2.3"/><circle cx="224.1" cy="1007.05" r="2.3"/><circle cx="228.85" cy="1007.05" r="2.3"/><circle cx="233.6" cy="1007.05" r="2.3"/><circle cx="238.35" cy="1007.05" r="2.3"/><circle cx="243.1" cy="1007.05" r="2.3"/></g>
<polyline points="34.1,1162.3 34.1,1157.45 38.85,1157.45 38.85,1152.6 38.85,1147.75 38.85,1142.89 43.6,1142.89 43.6,1138.04 43.6,1133.19 48.35,1133.19 48.35,1128.34 48.35,1123.49 48.35,1118.64 48.35,1113.78 48.35,1108.93 48.35,1104.08 53.1,1104.08 53.1,1099.23 53.1,1094.38 53.1,1089.53 57.85,1089.53 57.85,1084.68 62.6,1084.68 62.6,1079.82 67.35,1079.82 67.35,1074.97 67.35,1070.12 67.35,1065.27 67.35,1060.42 72.1,1060.42 76.85,1060.42 76.85,1055.57 76.85,1050.72 76.85,1045.86 81.6,1045.86 86.35,1045.86 86.35,1041.01 91.1,1041.01 91.1,1036.16 95.85,1036.16 100.6,1036.16 105.35,1036.16 110.1,1036.16 114.85,1036.16 114.85,1031.31 119.6,1031.31 124.35,1031.31 124.35,1026.46 129.1,1026.46 133.85,1026.46 138.6,1026.46 143.35,1026.46 148.1,1026.46 152.85,1026.46 152.85,1021.61 152.85,1016.75 152.85,1011.9 152.85,1007.05 157.6,1007.05 162.35,1007.05 167.1,1007.05 171.85,1007.05 176.6,1007.05 176.6,1002.2 181.35,1002.2 186.1,1002.2 190.85,1002.2 195.6,1002.2 200.35,1002.2 205.1,1002.2 209.85,1002.2 214.6,1002.2 219.35,1002.2 224.1,1002.2 228.85,1002.2 233.6,1002.2 238.35,1002.2 243.1,1002.2 247.85,1002.2 252.6,1002.2 257.35,1002.2 262.1,1002.2 266.85,1002.2 271.6,1002.2 276.35,1002.2 281.1,1002.2 285.85,1002.2 290.6,1002.2 295.35,1002.2 300.1,1002.2 304.85,1002.2 309.6,1002.2 314.35,1002.2 319.1,1002.2 323.85,1002.2 328.6,1002.2" fill="none" stroke="#a0505c" stroke-width="1"/>
<g fill="#982e3e"><circle cx="34.1" cy="1162.3" r="2.3"/><circle cx="34.1" cy="1157.45" r="2.3"/><circle cx="38.85" cy="1157.45" r="2.3"/><circle cx="38.85" cy="1152.6" r="2.3"/><circle cx="38.85" cy="1147.75" r="2.3"/><circle cx="38.85" cy="1142.89" r="2.3"/><circle cx="43.6" cy="1142.89" r="2.3"/><circle cx="43.6" cy="1138.04" r="2.3"/><circle cx="43.6" cy="1133.19" r="2.3"/><circle cx="48.35" cy="1133.19" r="2.3"/><circle cx="48.35" cy="1128.34" r="2.3"/><circle cx="48.35" cy="1123.49" r="2.3"/><circle cx="48.35" cy="1118.64" r="2.3"/><circle cx="48.35" cy="1113.78" r="2.3"/><circle cx="48.35" cy="1108.93" r="2.3"/><circle cx="48.35" cy="1104.08" r="2.3"/><circle cx="53.1" cy="1104.08" r="2.3"/><circle cx="53.1" cy="1099.23" r="2.3"/><circle cx="53.1" cy="1094.38" r="2.3"/><circle cx="53.1" cy="1089.53" r="2.3"/><circle cx="57.85" cy="1089.53" r="2.3"/><circle cx="57.85" cy="1084.68" r="2.3"/><circle cx="62.6" cy="1084.68" r="2.3"/><circle cx="62.6" cy="1079.82" r="2.3"/><circle cx="67.35" cy="1079.82" r="2.3"/><circle cx="67.35" cy="1074.97" r="2.3"/><circle cx="67.35" cy="1070.12" r="2.3"/><circle cx="67.35" cy="1065.27" r="2.3"/><circle cx="67.35" cy="1060.42" r="2.3"/><circle cx="72.1" cy="1060.42" r="2.3"/><circle cx="76.85" cy="1060.42" r="2.3"/><circle cx="76.85" cy="1055.57" r="2.3"/><circle cx="76.85" cy="1050.72" r="2.3"/><circle cx="76.85" cy="1045.86" r="2.3"/><circle cx="81.6" cy="1045.86" r="2.3"/><circle cx="86.35" cy="1045.86" r="2.3"/><circle cx="86.35" cy="1041.01" r="2.3"/><circle cx="91.1" cy="1041.01" r="2.3"/><circle cx="91.1" cy="1036.16" r="2.3"/><circle cx="95.85" cy="1036.16" r="2.3"/><circle cx="100.6" cy="1036.16" r="2.3"/><circle cx="105.35" cy="1036.16" r="2.3"/><circle cx="110.1" cy="1036.16" r="2.3"/><circle cx="114.85" cy="1036.16" r="2.3"/><circle cx="114.85" cy="1031.31" r="2.3"/><circle cx="119.6" cy="1031.31" r="2.3"/><circle cx="124.35" cy="1031.31" r="2.3"/><circle cx="124.35" cy="1026.46" r="2.3"/><circle cx="129.1" cy="1026.46" r="2.3"/><circle cx="133.85" cy="1026.46" r="2.3"/><circle cx="138.6" cy="1026.46" r="2.3"/><circle cx="143.35" cy="1026.46" r="2.3"/><circle cx="148.1" cy="1026.46" r="2.3"/><circle cx="152.85" cy="1026.46" r="2.3"/><circle cx="152.85" cy="1021.61" r="2.3"/><circle cx="152.85" cy="1016.75" r="2.3"/><circle cx="152.85" cy="1011.9" r="2.3"/><circle cx="152.85" cy="1007.05" r="2.3"/><circle cx="157.6" cy="1007.05" r="2.3"/><circle cx="162.35" cy="1007.05" r="2.3"/><circle cx="167.1" cy="1007.05" r="2.3"/><circle cx="171.85" cy="1007.05" r="2.3"/><circle cx="176.6" cy="1007.05" r="2.3"/><circle cx="176.6" cy="1002.2" r="2.3"/><circle cx="181.35" cy="1002.2" r="2.3"/><circle cx="186.1" cy="1002.2" r="2.3"/><circle cx="190.85" cy="1002.2" r="2.3"/><circle cx="195.6" cy="1002.2" r="2.3"/><circle cx="200.35" cy="1002.2" r="2.3"/><circle cx="205.1" cy="1002.2" r="2.3"/><circle cx="209.85" cy="1002.2" r="2.3"/><circle cx="214.6" cy="1002.2" r="2.3"/><circle cx="219.35" cy="1002.2" r="2.3"/><circle cx="224.1" cy="1002.2" r="2.3"/><circle cx="228.85" cy="1002.2" r="2.3"/><circle cx="233.6" cy="1002.2" r="2.3"/><circle cx="238.35" cy="1002.2" r="2.3"/><circle cx="243.1" cy="1002.2" r="2.3"/><circle cx="247.85" cy="1002.2" r="2.3"/><circle cx="252.6" cy="1002.2" r="2.3"/><circle cx="257.35" cy="1002.2" r="2.3"/><circle cx="262.1" cy="1002.2" r="2.3"/><circle cx="266.85" cy="1002.2" r="2.3"/><circle cx="271.6" cy="1002.2" r="2.3"/><circle cx="276.35" cy="1002.2" r="2.3"/><circle cx="281.1" cy="1002.2" r="2.3"/><circle cx="285.85" cy="1002.2" r="2.3"/><circle cx="290.6" cy="1002.2" r="2.3"/><circle cx="295.35" cy="1002.2" r="2.3"/><circle cx="300.1" cy="1002.2" r="2.3"/><circle cx="304.85" cy="1002.2" r="2.3"/><circle cx="309.6" cy="1002.2" r="2.3"/><circle cx="314.35" cy="1002.2" r="2.3"/><circle cx="319.1" cy="1002.2" r="2.3"/><circle cx="323.85" cy="1002.2" r="2.3"/><circle cx="328.6" cy="1002.2" r="2.3"/></g>
<text transform="translate(51.3,1020.3) scale(1.0,1)" font-size="22.4" font-weight="bold" fill="#000">e</text>
<text x="255.2" y="1146.8" font-size="14.3" font-weight="bold" fill="#000"><tspan font-style="italic">P</tspan> = 0.2829</text>
<rect x="31.3" y="1196.1" width="300" height="27.4" fill="none" stroke="#8c8c8c" stroke-width="1"/>
<line x1="35.8" y1="1206.5" x2="56.8" y2="1206.5" stroke="#5f7c98" stroke-width="1"/>
<circle cx="46.3" cy="1206.5" r="2.3" fill="#1c4c7c"/>
<text x="60.7" y="1209.56" font-size="8.5" fill="#141414" class="t">BM+Aβ1-42/Aβ1-40 ROC area: 0.8328</text>
<line x1="36.3" y1="1217.8" x2="57.3" y2="1217.8" stroke="#aa6470" stroke-width="1"/>
<circle cx="46.8" cy="1217.8" r="2.3" fill="#982e3e"/>
<text x="62" y="1220.86" font-size="8.5" fill="#141414" class="t">BM+Aβ1-42/Aβ1-40+SOST ROC area: 0.8573</text>
<line x1="373.5" y1="418.3" x2="674.6" y2="418.3" stroke="#f5f7f7" stroke-width="1"/>
<line x1="378.5" y1="253.1" x2="378.5" y2="423.8" stroke="#f5f7f7" stroke-width="1"/>
<line x1="373.5" y1="378.27" x2="674.6" y2="378.27" stroke="#f5f7f7" stroke-width="1"/>
<line x1="451.25" y1="253.1" x2="451.25" y2="423.8" stroke="#f5f7f7" stroke-width="1"/>
<line x1="373.5" y1="338.25" x2="674.6" y2="338.25" stroke="#f5f7f7" stroke-width="1"/>
<line x1="524" y1="253.1" x2="524" y2="423.8" stroke="#f5f7f7" stroke-width="1"/>
<line x1="373.5" y1="298.23" x2="674.6" y2="298.23" stroke="#f5f7f7" stroke-width="1"/>
<line x1="596.75" y1="253.1" x2="596.75" y2="423.8" stroke="#f5f7f7" stroke-width="1"/>
<line x1="373.5" y1="258.2" x2="674.6" y2="258.2" stroke="#f5f7f7" stroke-width="1"/>
<line x1="669.5" y1="253.1" x2="669.5" y2="423.8" stroke="#f5f7f7" stroke-width="1"/>
<rect x="374.8" y="254.2" width="37" height="29.7" fill="#fff"/>
<rect x="582.7" y="384.5" width="81" height="29.5" fill="#fff"/>
<line x1="373.5" y1="253.1" x2="373.5" y2="423.8" stroke="#8c8c8c" stroke-width="1.2"/>
<line x1="373.5" y1="423.8" x2="674.6" y2="423.8" stroke="#a4a4a4" stroke-width="1.7"/>
<line x1="369.9" y1="418.3" x2="373.5" y2="418.3" stroke="#8c8c8c" stroke-width="1"/>
<line x1="378.5" y1="423.8" x2="378.5" y2="427.2" stroke="#8c8c8c" stroke-width="1"/>
<text transform="translate(363.1,418.3) rotate(-90)" y="2.94" font-size="8.4" text-anchor="middle" fill="#141414" class="t">0.00</text>
<text x="378.5" y="437.14" font-size="8.4" text-anchor="middle" fill="#141414" class="t">0.00</text>
<line x1="369.9" y1="378.27" x2="373.5" y2="378.27" stroke="#8c8c8c" stroke-width="1"/>
<line x1="451.25" y1="423.8" x2="451.25" y2="427.2" stroke="#8c8c8c" stroke-width="1"/>
<text transform="translate(363.1,378.27) rotate(-90)" y="2.94" font-size="8.4" text-anchor="middle" fill="#141414" class="t">0.25</text>
<text x="451.25" y="437.14" font-size="8.4" text-anchor="middle" fill="#141414" class="t">0.25</text>
<line x1="369.9" y1="338.25" x2="373.5" y2="338.25" stroke="#8c8c8c" stroke-width="1"/>
<line x1="524" y1="423.8" x2="524" y2="427.2" stroke="#8c8c8c" stroke-width="1"/>
<text transform="translate(363.1,338.25) rotate(-90)" y="2.94" font-size="8.4" text-anchor="middle" fill="#141414" class="t">0.50</text>
<text x="524" y="437.14" font-size="8.4" text-anchor="middle" fill="#141414" class="t">0.50</text>
<line x1="369.9" y1="298.23" x2="373.5" y2="298.23" stroke="#8c8c8c" stroke-width="1"/>
<line x1="596.75" y1="423.8" x2="596.75" y2="427.2" stroke="#8c8c8c" stroke-width="1"/>
<text transform="translate(363.1,298.23) rotate(-90)" y="2.94" font-size="8.4" text-anchor="middle" fill="#141414" class="t">0.75</text>
<text x="596.75" y="437.14" font-size="8.4" text-anchor="middle" fill="#141414" class="t">0.75</text>
<line x1="369.9" y1="258.2" x2="373.5" y2="258.2" stroke="#8c8c8c" stroke-width="1"/>
<line x1="669.5" y1="423.8" x2="669.5" y2="427.2" stroke="#8c8c8c" stroke-width="1"/>
<text transform="translate(363.1,258.2) rotate(-90)" y="2.94" font-size="8.4" text-anchor="middle" fill="#141414" class="t">1.00</text>
<text x="669.5" y="437.14" font-size="8.4" text-anchor="middle" fill="#141414" class="t">1.00</text>
<text transform="translate(352.8,339) rotate(-90)" y="3.06" font-size="8.5" text-anchor="middle" fill="#141414" class="t">Sensitivity</text>
<text x="524" y="445.56" font-size="8.5" text-anchor="middle" fill="#141414" class="t">1-specificity</text>
<line x1="378.5" y1="418.3" x2="669.5" y2="258.2" stroke="#58887e" stroke-width="1"/>
<path d="M378.5 418.3L387.45 413.3L391.93 408.29L396.41 408.29L400.88 408.29L405.36 408.29L405.36 403.29L409.84 403.29L414.32 403.29L414.32 398.29L414.32 393.28L418.79 393.28L418.79 388.28L418.79 383.28L418.79 378.27L423.27 378.27L427.75 378.27L427.75 373.27L427.75 368.27L427.75 363.27L432.22 363.27L432.22 358.26L432.22 353.26L432.22 348.26L432.22 343.25L436.7 338.25L436.7 333.25L436.7 328.24L441.18 328.24L441.18 323.24L445.65 323.24L450.13 323.24L450.13 318.24L450.13 313.23L450.13 308.23L454.61 308.23L463.56 308.23L463.56 303.23L468.04 303.23L472.52 303.23L476.99 303.23L476.99 298.23L481.47 298.23L485.95 298.23L485.95 293.22L490.42 293.22L490.42 288.22L490.42 283.22L494.9 283.22L499.38 283.22L503.85 283.22L508.33 283.22L512.81 283.22L517.28 283.22L521.76 283.22L526.24 283.22L530.72 283.22L535.19 283.22L539.67 283.22L544.15 283.22L548.62 283.22L553.1 283.22L557.58 283.22L562.05 283.22L566.53 283.22L566.53 278.21L566.53 273.21L575.48 273.21L579.96 273.21L584.44 273.21L588.92 273.21L593.39 273.21L597.87 273.21L602.35 273.21L606.82 273.21L611.3 273.21L611.3 268.21L615.78 268.21L620.25 268.21L624.73 268.21L624.73 263.2L638.16 263.2L642.64 258.2L647.12 258.2L651.59 258.2L656.07 258.2L660.55 258.2L665.02 258.2L669.5 258.2" fill="none" stroke="#587590" stroke-width="1"/>
<g fill="#1c4c7c"><circle cx="387.45" cy="413.3" r="2.3"/><circle cx="391.93" cy="408.29" r="2.3"/><circle cx="396.41" cy="408.29" r="2.3"/><circle cx="400.88" cy="408.29" r="2.3"/><circle cx="405.36" cy="408.29" r="2.3"/><circle cx="405.36" cy="403.29" r="2.3"/><circle cx="409.84" cy="403.29" r="2.3"/><circle cx="414.32" cy="403.29" r="2.3"/><circle cx="414.32" cy="398.29" r="2.3"/><circle cx="414.32" cy="393.28" r="2.3"/><circle cx="418.79" cy="393.28" r="2.3"/><circle cx="418.79" cy="388.28" r="2.3"/><circle cx="418.79" cy="383.28" r="2.3"/><circle cx="418.79" cy="378.27" r="2.3"/><circle cx="423.27" cy="378.27" r="2.3"/><circle cx="427.75" cy="378.27" r="2.3"/><circle cx="427.75" cy="373.27" r="2.3"/><circle cx="427.75" cy="368.27" r="2.3"/><circle cx="427.75" cy="363.27" r="2.3"/><circle cx="432.22" cy="363.27" r="2.3"/><circle cx="432.22" cy="358.26" r="2.3"/><circle cx="432.22" cy="353.26" r="2.3"/><circle cx="432.22" cy="343.25" r="2.3"/><circle cx="436.7" cy="333.25" r="2.3"/><circle cx="436.7" cy="328.24" r="2.3"/><circle cx="441.18" cy="328.24" r="2.3"/><circle cx="441.18" cy="323.24" r="2.3"/><circle cx="445.65" cy="323.24" r="2.3"/><circle cx="450.13" cy="323.24" r="2.3"/><circle cx="450.13" cy="318.24" r="2.3"/><circle cx="450.13" cy="313.23" r="2.3"/><circle cx="450.13" cy="308.23" r="2.3"/><circle cx="454.61" cy="308.23" r="2.3"/><circle cx="463.56" cy="308.23" r="2.3"/><circle cx="463.56" cy="303.23" r="2.3"/><circle cx="472.52" cy="303.23" r="2.3"/><circle cx="476.99" cy="303.23" r="2.3"/><circle cx="476.99" cy="298.23" r="2.3"/><circle cx="481.47" cy="298.23" r="2.3"/><circle cx="485.95" cy="298.23" r="2.3"/><circle cx="485.95" cy="293.22" r="2.3"/><circle cx="490.42" cy="293.22" r="2.3"/><circle cx="490.42" cy="288.22" r="2.3"/><circle cx="490.42" cy="283.22" r="2.3"/><circle cx="494.9" cy="283.22" r="2.3"/><circle cx="499.38" cy="283.22" r="2.3"/><circle cx="503.85" cy="283.22" r="2.3"/><circle cx="508.33" cy="283.22" r="2.3"/><circle cx="512.81" cy="283.22" r="2.3"/><circle cx="517.28" cy="283.22" r="2.3"/><circle cx="521.76" cy="283.22" r="2.3"/><circle cx="526.24" cy="283.22" r="2.3"/><circle cx="530.72" cy="283.22" r="2.3"/><circle cx="535.19" cy="283.22" r="2.3"/><circle cx="539.67" cy="283.22" r="2.3"/><circle cx="544.15" cy="283.22" r="2.3"/><circle cx="548.62" cy="283.22" r="2.3"/><circle cx="553.1" cy="283.22" r="2.3"/><circle cx="557.58" cy="283.22" r="2.3"/><circle cx="562.05" cy="283.22" r="2.3"/><circle cx="566.53" cy="283.22" r="2.3"/><circle cx="566.53" cy="278.21" r="2.3"/><circle cx="566.53" cy="273.21" r="2.3"/><circle cx="575.48" cy="273.21" r="2.3"/><circle cx="579.96" cy="273.21" r="2.3"/><circle cx="584.44" cy="273.21" r="2.3"/><circle cx="588.92" cy="273.21" r="2.3"/><circle cx="593.39" cy="273.21" r="2.3"/><circle cx="597.87" cy="273.21" r="2.3"/><circle cx="602.35" cy="273.21" r="2.3"/><circle cx="606.82" cy="273.21" r="2.3"/><circle cx="611.3" cy="273.21" r="2.3"/><circle cx="611.3" cy="268.21" r="2.3"/><circle cx="615.78" cy="268.21" r="2.3"/><circle cx="620.25" cy="268.21" r="2.3"/><circle cx="624.73" cy="268.21" r="2.3"/><circle cx="642.64" cy="258.2" r="2.3"/><circle cx="647.12" cy="258.2" r="2.3"/><circle cx="651.59" cy="258.2" r="2.3"/><circle cx="656.07" cy="258.2" r="2.3"/><circle cx="660.55" cy="258.2" r="2.3"/><circle cx="665.02" cy="258.2" r="2.3"/></g>
<polyline points="378.5,418.3 378.5,413.3 382.98,413.3 382.98,408.29 387.45,408.29 387.45,403.29 387.45,398.29 391.93,398.29 396.41,398.29 396.41,393.28 396.41,388.28 396.41,383.28 400.88,383.28 405.36,383.28 409.84,383.28 409.84,378.27 409.84,373.27 414.32,373.27 414.32,368.27 418.79,368.27 418.79,363.27 423.27,363.27 423.27,358.26 427.75,358.26 427.75,353.26 427.75,348.26 432.22,348.26 436.7,348.26 436.7,343.25 436.7,338.25 441.18,338.25 445.65,338.25 450.13,338.25 450.13,333.25 454.61,333.25 454.61,328.24 454.61,323.24 454.61,318.24 459.08,318.24 463.56,318.24 463.56,313.23 468.04,313.23 468.04,308.23 468.04,303.23 468.04,298.23 472.52,298.23 472.52,293.22 472.52,288.22 476.99,288.22 476.99,283.22 481.47,283.22 481.47,278.21 485.95,278.21 490.42,278.21 490.42,273.21 494.9,273.21 499.38,273.21 503.85,273.21 508.33,273.21 512.81,273.21 517.28,273.21 521.76,273.21 526.24,273.21 530.72,273.21 535.19,273.21 539.67,273.21 539.67,268.21 544.15,268.21 544.15,263.2 548.62,263.2 553.1,263.2 557.58,263.2 562.05,263.2 566.53,263.2 571.01,263.2 575.48,263.2 579.96,263.2 584.44,263.2 588.92,263.2 593.39,263.2 597.87,263.2 602.35,263.2 606.82,263.2 611.3,263.2 615.78,263.2 620.25,263.2 624.73,263.2 629.21,263.2 633.68,263.2 638.16,263.2 642.64,263.2 647.12,263.2 651.59,263.2 656.07,263.2 660.55,263.2 665.02,263.2 669.5,263.2 669.5,258.2" fill="none" stroke="#a0505c" stroke-width="1"/>
<g fill="#982e3e"><circle cx="378.5" cy="418.3" r="2.3"/><circle cx="378.5" cy="413.3" r="2.3"/><circle cx="382.98" cy="413.3" r="2.3"/><circle cx="382.98" cy="408.29" r="2.3"/><circle cx="387.45" cy="408.29" r="2.3"/><circle cx="387.45" cy="403.29" r="2.3"/><circle cx="387.45" cy="398.29" r="2.3"/><circle cx="391.93" cy="398.29" r="2.3"/><circle cx="396.41" cy="398.29" r="2.3"/><circle cx="396.41" cy="393.28" r="2.3"/><circle cx="396.41" cy="388.28" r="2.3"/><circle cx="396.41" cy="383.28" r="2.3"/><circle cx="400.88" cy="383.28" r="2.3"/><circle cx="405.36" cy="383.28" r="2.3"/><circle cx="409.84" cy="383.28" r="2.3"/><circle cx="409.84" cy="378.27" r="2.3"/><circle cx="409.84" cy="373.27" r="2.3"/><circle cx="414.32" cy="373.27" r="2.3"/><circle cx="414.32" cy="368.27" r="2.3"/><circle cx="418.79" cy="368.27" r="2.3"/><circle cx="418.79" cy="363.27" r="2.3"/><circle cx="423.27" cy="363.27" r="2.3"/><circle cx="423.27" cy="358.26" r="2.3"/><circle cx="427.75" cy="358.26" r="2.3"/><circle cx="427.75" cy="353.26" r="2.3"/><circle cx="427.75" cy="348.26" r="2.3"/><circle cx="432.22" cy="348.26" r="2.3"/><circle cx="436.7" cy="348.26" r="2.3"/><circle cx="436.7" cy="343.25" r="2.3"/><circle cx="436.7" cy="338.25" r="2.3"/><circle cx="441.18" cy="338.25" r="2.3"/><circle cx="445.65" cy="338.25" r="2.3"/><circle cx="450.13" cy="338.25" r="2.3"/><circle cx="450.13" cy="333.25" r="2.3"/><circle cx="454.61" cy="333.25" r="2.3"/><circle cx="454.61" cy="328.24" r="2.3"/><circle cx="454.61" cy="323.24" r="2.3"/><circle cx="454.61" cy="318.24" r="2.3"/><circle cx="459.08" cy="318.24" r="2.3"/><circle cx="463.56" cy="318.24" r="2.3"/><circle cx="463.56" cy="313.23" r="2.3"/><circle cx="468.04" cy="313.23" r="2.3"/><circle cx="468.04" cy="308.23" r="2.3"/><circle cx="468.04" cy="303.23" r="2.3"/><circle cx="468.04" cy="298.23" r="2.3"/><circle cx="472.52" cy="298.23" r="2.3"/><circle cx="472.52" cy="293.22" r="2.3"/><circle cx="472.52" cy="288.22" r="2.3"/><circle cx="476.99" cy="288.22" r="2.3"/><circle cx="476.99" cy="283.22" r="2.3"/><circle cx="481.47" cy="283.22" r="2.3"/><circle cx="481.47" cy="278.21" r="2.3"/><circle cx="485.95" cy="278.21" r="2.3"/><circle cx="490.42" cy="278.21" r="2.3"/><circle cx="490.42" cy="273.21" r="2.3"/><circle cx="494.9" cy="273.21" r="2.3"/><circle cx="499.38" cy="273.21" r="2.3"/><circle cx="503.85" cy="273.21" r="2.3"/><circle cx="508.33" cy="273.21" r="2.3"/><circle cx="512.81" cy="273.21" r="2.3"/><circle cx="517.28" cy="273.21" r="2.3"/><circle cx="521.76" cy="273.21" r="2.3"/><circle cx="526.24" cy="273.21" r="2.3"/><circle cx="530.72" cy="273.21" r="2.3"/><circle cx="535.19" cy="273.21" r="2.3"/><circle cx="539.67" cy="273.21" r="2.3"/><circle cx="539.67" cy="268.21" r="2.3"/><circle cx="544.15" cy="268.21" r="2.3"/><circle cx="544.15" cy="263.2" r="2.3"/><circle cx="548.62" cy="263.2" r="2.3"/><circle cx="553.1" cy="263.2" r="2.3"/><circle cx="557.58" cy="263.2" r="2.3"/><circle cx="562.05" cy="263.2" r="2.3"/><circle cx="566.53" cy="263.2" r="2.3"/><circle cx="571.01" cy="263.2" r="2.3"/><circle cx="575.48" cy="263.2" r="2.3"/><circle cx="579.96" cy="263.2" r="2.3"/><circle cx="584.44" cy="263.2" r="2.3"/><circle cx="588.92" cy="263.2" r="2.3"/><circle cx="593.39" cy="263.2" r="2.3"/><circle cx="597.87" cy="263.2" r="2.3"/><circle cx="602.35" cy="263.2" r="2.3"/><circle cx="606.82" cy="263.2" r="2.3"/><circle cx="611.3" cy="263.2" r="2.3"/><circle cx="615.78" cy="263.2" r="2.3"/><circle cx="620.25" cy="263.2" r="2.3"/><circle cx="624.73" cy="263.2" r="2.3"/><circle cx="629.21" cy="263.2" r="2.3"/><circle cx="633.68" cy="263.2" r="2.3"/><circle cx="638.16" cy="263.2" r="2.3"/><circle cx="642.64" cy="263.2" r="2.3"/><circle cx="647.12" cy="263.2" r="2.3"/><circle cx="651.59" cy="263.2" r="2.3"/><circle cx="656.07" cy="263.2" r="2.3"/><circle cx="660.55" cy="263.2" r="2.3"/><circle cx="665.02" cy="263.2" r="2.3"/><circle cx="669.5" cy="263.2" r="2.3"/><circle cx="669.5" cy="258.2" r="2.3"/></g>
<text transform="translate(386.6,271.9) scale(1.0,1)" font-size="22.4" font-weight="bold" fill="#000">f</text>
<text x="592.7" y="406" font-size="14.3" font-weight="bold" fill="#000"><tspan font-style="italic">P</tspan> = 0.2270</text>
<rect x="376.4" y="451.8" width="294.9" height="27.4" fill="none" stroke="#8c8c8c" stroke-width="1"/>
<line x1="381.5" y1="461.6" x2="406.7" y2="461.6" stroke="#5f7c98" stroke-width="1"/>
<circle cx="395" cy="461.6" r="2.3" fill="#1c4c7c"/>
<text x="411.9" y="464.66" font-size="8.5" fill="#141414" class="t">p-tau 181 ROC area: 0.7125</text>
<line x1="381.5" y1="472.8" x2="406.7" y2="472.8" stroke="#aa6470" stroke-width="1"/>
<circle cx="395" cy="472.8" r="2.3" fill="#982e3e"/>
<text x="411" y="475.86" font-size="8.5" fill="#141414" class="t">p-tau181+SOST ROC area: 0.7587</text>
<line x1="371.4" y1="663.2" x2="673" y2="663.2" stroke="#f5f7f7" stroke-width="1"/>
<line x1="376.1" y1="497.2" x2="376.1" y2="668.4" stroke="#f5f7f7" stroke-width="1"/>
<line x1="371.4" y1="623.03" x2="673" y2="623.03" stroke="#f5f7f7" stroke-width="1"/>
<line x1="449.08" y1="497.2" x2="449.08" y2="668.4" stroke="#f5f7f7" stroke-width="1"/>
<line x1="371.4" y1="582.85" x2="673" y2="582.85" stroke="#f5f7f7" stroke-width="1"/>
<line x1="522.05" y1="497.2" x2="522.05" y2="668.4" stroke="#f5f7f7" stroke-width="1"/>
<line x1="371.4" y1="542.67" x2="673" y2="542.67" stroke="#f5f7f7" stroke-width="1"/>
<line x1="595.02" y1="497.2" x2="595.02" y2="668.4" stroke="#f5f7f7" stroke-width="1"/>
<line x1="371.4" y1="502.5" x2="673" y2="502.5" stroke="#f5f7f7" stroke-width="1"/>
<line x1="668" y1="497.2" x2="668" y2="668.4" stroke="#f5f7f7" stroke-width="1"/>
<rect x="375.6" y="498.5" width="37" height="33" fill="#fff"/>
<rect x="582.7" y="631.2" width="81" height="29.5" fill="#fff"/>
<line x1="371.4" y1="497.2" x2="371.4" y2="668.4" stroke="#8c8c8c" stroke-width="1.2"/>
<line x1="371.4" y1="668.4" x2="673" y2="668.4" stroke="#a4a4a4" stroke-width="1.7"/>
<line x1="367.8" y1="663.2" x2="371.4" y2="663.2" stroke="#8c8c8c" stroke-width="1"/>
<line x1="376.1" y1="668.4" x2="376.1" y2="671.8" stroke="#8c8c8c" stroke-width="1"/>
<text transform="translate(360.8,663.2) rotate(-90)" y="2.94" font-size="8.4" text-anchor="middle" fill="#141414" class="t">0.00</text>
<text x="376.1" y="681.94" font-size="8.4" text-anchor="middle" fill="#141414" class="t">0.00</text>
<line x1="367.8" y1="623.03" x2="371.4" y2="623.03" stroke="#8c8c8c" stroke-width="1"/>
<line x1="449.08" y1="668.4" x2="449.08" y2="671.8" stroke="#8c8c8c" stroke-width="1"/>
<text transform="translate(360.8,623.03) rotate(-90)" y="2.94" font-size="8.4" text-anchor="middle" fill="#141414" class="t">0.25</text>
<text x="449.08" y="681.94" font-size="8.4" text-anchor="middle" fill="#141414" class="t">0.25</text>
<line x1="367.8" y1="582.85" x2="371.4" y2="582.85" stroke="#8c8c8c" stroke-width="1"/>
<line x1="522.05" y1="668.4" x2="522.05" y2="671.8" stroke="#8c8c8c" stroke-width="1"/>
<text transform="translate(360.8,582.85) rotate(-90)" y="2.94" font-size="8.4" text-anchor="middle" fill="#141414" class="t">0.50</text>
<text x="522.05" y="681.94" font-size="8.4" text-anchor="middle" fill="#141414" class="t">0.50</text>
<line x1="367.8" y1="542.67" x2="371.4" y2="542.67" stroke="#8c8c8c" stroke-width="1"/>
<line x1="595.02" y1="668.4" x2="595.02" y2="671.8" stroke="#8c8c8c" stroke-width="1"/>
<text transform="translate(360.8,542.67) rotate(-90)" y="2.94" font-size="8.4" text-anchor="middle" fill="#141414" class="t">0.75</text>
<text x="595.02" y="681.94" font-size="8.4" text-anchor="middle" fill="#141414" class="t">0.75</text>
<line x1="367.8" y1="502.5" x2="371.4" y2="502.5" stroke="#8c8c8c" stroke-width="1"/>
<line x1="668" y1="668.4" x2="668" y2="671.8" stroke="#8c8c8c" stroke-width="1"/>
<text transform="translate(360.8,502.5) rotate(-90)" y="2.94" font-size="8.4" text-anchor="middle" fill="#141414" class="t">1.00</text>
<text x="668" y="681.94" font-size="8.4" text-anchor="middle" fill="#141414" class="t">1.00</text>
<text transform="translate(348.4,584) rotate(-90)" y="3.06" font-size="8.5" text-anchor="middle" fill="#141414" class="t">Sensitivity</text>
<text x="522.05" y="690.76" font-size="8.5" text-anchor="middle" fill="#141414" class="t">1-specificity</text>
<line x1="376.1" y1="663.2" x2="668" y2="502.5" stroke="#58887e" stroke-width="1"/>
<path d="M376.1 663.2L380.59 658.02L380.59 652.83L380.59 647.65M380.59 642.46L380.59 637.28L385.08 632.1L385.08 626.91L385.08 621.73L385.08 616.55L385.08 611.36L389.57 611.36L389.57 606.18L394.06 606.18M398.55 606.18L403.04 606.18L407.54 600.99L412.03 600.99L412.03 595.81L412.03 590.63L416.52 590.63L421.01 585.44L425.5 585.44L429.99 585.44L434.48 585.44L434.48 580.26L434.48 575.07L438.97 575.07L443.46 575.07L443.46 569.89L447.95 569.89L447.95 564.71L452.44 564.71L456.93 564.71L461.42 564.71L461.42 559.52L465.92 559.52L470.41 559.52L474.9 559.52L474.9 554.34L474.9 549.15L479.39 543.97L479.39 538.79L479.39 533.6L483.88 533.6L488.37 533.6L488.37 528.42L492.86 528.42L492.86 523.24L497.35 523.24L501.84 523.24L506.33 523.24L510.82 523.24L510.82 518.05L510.82 512.87L510.82 507.68L515.31 507.68L519.8 507.68L524.3 507.68L528.79 507.68L533.28 507.68L537.77 507.68L542.26 507.68L546.75 507.68L551.24 507.68L555.73 507.68L564.71 507.68L564.71 502.5L668 502.5" fill="none" stroke="#587590" stroke-width="1"/>
<g fill="#1c4c7c"><circle cx="380.59" cy="658.02" r="2.3"/><circle cx="380.59" cy="652.83" r="2.3"/><circle cx="380.59" cy="637.28" r="2.3"/><circle cx="385.08" cy="632.1" r="2.3"/><circle cx="385.08" cy="626.91" r="2.3"/><circle cx="385.08" cy="621.73" r="2.3"/><circle cx="385.08" cy="616.55" r="2.3"/><circle cx="385.08" cy="611.36" r="2.3"/><circle cx="389.57" cy="611.36" r="2.3"/><circle cx="389.57" cy="606.18" r="2.3"/><circle cx="403.04" cy="606.18" r="2.3"/><circle cx="412.03" cy="600.99" r="2.3"/><circle cx="412.03" cy="595.81" r="2.3"/><circle cx="412.03" cy="590.63" r="2.3"/><circle cx="416.52" cy="590.63" r="2.3"/><circle cx="421.01" cy="585.44" r="2.3"/><circle cx="425.5" cy="585.44" r="2.3"/><circle cx="429.99" cy="585.44" r="2.3"/><circle cx="434.48" cy="585.44" r="2.3"/><circle cx="434.48" cy="580.26" r="2.3"/><circle cx="434.48" cy="575.07" r="2.3"/><circle cx="438.97" cy="575.07" r="2.3"/><circle cx="443.46" cy="575.07" r="2.3"/><circle cx="443.46" cy="569.89" r="2.3"/><circle cx="447.95" cy="569.89" r="2.3"/><circle cx="447.95" cy="564.71" r="2.3"/><circle cx="452.44" cy="564.71" r="2.3"/><circle cx="456.93" cy="564.71" r="2.3"/><circle cx="461.42" cy="564.71" r="2.3"/><circle cx="461.42" cy="559.52" r="2.3"/><circle cx="465.92" cy="559.52" r="2.3"/><circle cx="470.41" cy="559.52" r="2.3"/><circle cx="474.9" cy="559.52" r="2.3"/><circle cx="474.9" cy="554.34" r="2.3"/><circle cx="479.39" cy="543.97" r="2.3"/><circle cx="479.39" cy="538.79" r="2.3"/><circle cx="479.39" cy="533.6" r="2.3"/><circle cx="483.88" cy="533.6" r="2.3"/><circle cx="488.37" cy="533.6" r="2.3"/><circle cx="488.37" cy="528.42" r="2.3"/><circle cx="492.86" cy="528.42" r="2.3"/><circle cx="497.35" cy="523.24" r="2.3"/><circle cx="501.84" cy="523.24" r="2.3"/><circle cx="506.33" cy="523.24" r="2.3"/><circle cx="510.82" cy="523.24" r="2.3"/><circle cx="510.82" cy="512.87" r="2.3"/><circle cx="510.82" cy="507.68" r="2.3"/><circle cx="515.31" cy="507.68" r="2.3"/><circle cx="519.8" cy="507.68" r="2.3"/><circle cx="524.3" cy="507.68" r="2.3"/><circle cx="528.79" cy="507.68" r="2.3"/><circle cx="533.28" cy="507.68" r="2.3"/><circle cx="537.77" cy="507.68" r="2.3"/><circle cx="542.26" cy="507.68" r="2.3"/><circle cx="551.24" cy="507.68" r="2.3"/><circle cx="555.73" cy="507.68" r="2.3"/><circle cx="564.71" cy="507.68" r="2.3"/></g>
<polyline points="376.1,663.2 376.1,658.02 376.1,652.83 376.1,647.65 380.59,647.65 380.59,642.46 385.08,642.46 385.08,637.28 389.57,637.28 389.57,632.1 389.57,626.91 394.06,626.91 394.06,621.73 394.06,616.55 394.06,611.36 394.06,606.18 398.55,606.18 398.55,600.99 403.04,600.99 407.54,600.99 407.54,595.81 407.54,590.63 407.54,585.44 412.03,585.44 412.03,580.26 412.03,575.07 412.03,569.89 412.03,564.71 416.52,564.71 421.01,564.71 425.5,564.71 425.5,559.52 429.99,559.52 429.99,554.34 434.48,554.34 438.97,554.34 443.46,554.34 447.95,554.34 447.95,549.15 452.44,549.15 456.93,549.15 461.42,549.15 465.92,549.15 470.41,549.15 474.9,549.15 474.9,543.97 474.9,538.79 474.9,533.6 474.9,528.42 479.39,528.42 483.88,528.42 483.88,523.24 488.37,523.24 492.86,523.24 492.86,518.05 497.35,518.05 501.84,518.05 506.33,518.05 510.82,518.05 515.31,518.05 519.8,518.05 524.3,518.05 528.79,518.05 533.28,518.05 533.28,512.87 537.77,512.87 542.26,512.87 546.75,512.87 546.75,507.68 546.75,502.5 551.24,502.5 555.73,502.5 560.22,502.5 564.71,502.5 569.2,502.5 573.69,502.5 578.18,502.5 582.68,502.5 587.17,502.5 591.66,502.5 596.15,502.5 600.64,502.5 605.13,502.5 609.62,502.5 614.11,502.5 618.6,502.5 623.09,502.5 627.58,502.5 632.07,502.5 636.56,502.5 641.06,502.5 645.55,502.5 650.04,502.5 654.53,502.5 659.02,502.5 663.51,502.5 668,502.5" fill="none" stroke="#a0505c" stroke-width="1"/>
<g fill="#982e3e"><circle cx="376.1" cy="663.2" r="2.3"/><circle cx="376.1" cy="658.02" r="2.3"/><circle cx="376.1" cy="652.83" r="2.3"/><circle cx="376.1" cy="647.65" r="2.3"/><circle cx="380.59" cy="647.65" r="2.3"/><circle cx="380.59" cy="642.46" r="2.3"/><circle cx="385.08" cy="642.46" r="2.3"/><circle cx="385.08" cy="637.28" r="2.3"/><circle cx="389.57" cy="637.28" r="2.3"/><circle cx="389.57" cy="632.1" r="2.3"/><circle cx="389.57" cy="626.91" r="2.3"/><circle cx="394.06" cy="626.91" r="2.3"/><circle cx="394.06" cy="621.73" r="2.3"/><circle cx="394.06" cy="616.55" r="2.3"/><circle cx="394.06" cy="611.36" r="2.3"/><circle cx="394.06" cy="606.18" r="2.3"/><circle cx="398.55" cy="606.18" r="2.3"/><circle cx="398.55" cy="600.99" r="2.3"/><circle cx="403.04" cy="600.99" r="2.3"/><circle cx="407.54" cy="600.99" r="2.3"/><circle cx="407.54" cy="595.81" r="2.3"/><circle cx="407.54" cy="590.63" r="2.3"/><circle cx="407.54" cy="585.44" r="2.3"/><circle cx="412.03" cy="585.44" r="2.3"/><circle cx="412.03" cy="580.26" r="2.3"/><circle cx="412.03" cy="575.07" r="2.3"/><circle cx="412.03" cy="569.89" r="2.3"/><circle cx="412.03" cy="564.71" r="2.3"/><circle cx="416.52" cy="564.71" r="2.3"/><circle cx="421.01" cy="564.71" r="2.3"/><circle cx="425.5" cy="564.71" r="2.3"/><circle cx="425.5" cy="559.52" r="2.3"/><circle cx="429.99" cy="559.52" r="2.3"/><circle cx="429.99" cy="554.34" r="2.3"/><circle cx="434.48" cy="554.34" r="2.3"/><circle cx="438.97" cy="554.34" r="2.3"/><circle cx="443.46" cy="554.34" r="2.3"/><circle cx="447.95" cy="554.34" r="2.3"/><circle cx="447.95" cy="549.15" r="2.3"/><circle cx="452.44" cy="549.15" r="2.3"/><circle cx="456.93" cy="549.15" r="2.3"/><circle cx="461.42" cy="549.15" r="2.3"/><circle cx="465.92" cy="549.15" r="2.3"/><circle cx="470.41" cy="549.15" r="2.3"/><circle cx="474.9" cy="549.15" r="2.3"/><circle cx="474.9" cy="543.97" r="2.3"/><circle cx="474.9" cy="538.79" r="2.3"/><circle cx="474.9" cy="533.6" r="2.3"/><circle cx="474.9" cy="528.42" r="2.3"/><circle cx="479.39" cy="528.42" r="2.3"/><circle cx="483.88" cy="528.42" r="2.3"/><circle cx="483.88" cy="523.24" r="2.3"/><circle cx="488.37" cy="523.24" r="2.3"/><circle cx="492.86" cy="523.24" r="2.3"/><circle cx="492.86" cy="518.05" r="2.3"/><circle cx="497.35" cy="518.05" r="2.3"/><circle cx="501.84" cy="518.05" r="2.3"/><circle cx="506.33" cy="518.05" r="2.3"/><circle cx="510.82" cy="518.05" r="2.3"/><circle cx="515.31" cy="518.05" r="2.3"/><circle cx="519.8" cy="518.05" r="2.3"/><circle cx="524.3" cy="518.05" r="2.3"/><circle cx="528.79" cy="518.05" r="2.3"/><circle cx="533.28" cy="518.05" r="2.3"/><circle cx="533.28" cy="512.87" r="2.3"/><circle cx="537.77" cy="512.87" r="2.3"/><circle cx="542.26" cy="512.87" r="2.3"/><circle cx="546.75" cy="512.87" r="2.3"/><circle cx="546.75" cy="507.68" r="2.3"/><circle cx="546.75" cy="502.5" r="2.3"/><circle cx="551.24" cy="502.5" r="2.3"/><circle cx="555.73" cy="502.5" r="2.3"/><circle cx="560.22" cy="502.5" r="2.3"/><circle cx="564.71" cy="502.5" r="2.3"/><circle cx="569.2" cy="502.5" r="2.3"/><circle cx="573.69" cy="502.5" r="2.3"/><circle cx="578.18" cy="502.5" r="2.3"/><circle cx="582.68" cy="502.5" r="2.3"/><circle cx="587.17" cy="502.5" r="2.3"/><circle cx="591.66" cy="502.5" r="2.3"/><circle cx="596.15" cy="502.5" r="2.3"/><circle cx="600.64" cy="502.5" r="2.3"/><circle cx="605.13" cy="502.5" r="2.3"/><circle cx="609.62" cy="502.5" r="2.3"/><circle cx="614.11" cy="502.5" r="2.3"/><circle cx="618.6" cy="502.5" r="2.3"/><circle cx="623.09" cy="502.5" r="2.3"/><circle cx="627.58" cy="502.5" r="2.3"/><circle cx="632.07" cy="502.5" r="2.3"/><circle cx="636.56" cy="502.5" r="2.3"/><circle cx="641.06" cy="502.5" r="2.3"/><circle cx="645.55" cy="502.5" r="2.3"/><circle cx="650.04" cy="502.5" r="2.3"/><circle cx="654.53" cy="502.5" r="2.3"/><circle cx="659.02" cy="502.5" r="2.3"/><circle cx="663.51" cy="502.5" r="2.3"/><circle cx="668" cy="502.5" r="2.3"/></g>
<text transform="translate(387.4,519.5) scale(1.0,1)" font-size="22.4" font-weight="bold" fill="#000">g</text>
<text x="592.7" y="652.7" font-size="14.3" font-weight="bold" fill="#000"><tspan font-style="italic">P</tspan> = 0.3575</text>
<rect x="374.5" y="697.4" width="296" height="26.8" fill="none" stroke="#8c8c8c" stroke-width="1"/>
<line x1="377.9" y1="707.9" x2="404.1" y2="707.9" stroke="#5f7c98" stroke-width="1"/>
<circle cx="391" cy="707.9" r="2.3" fill="#1c4c7c"/>
<text x="409.4" y="710.96" font-size="8.5" fill="#141414" class="t">p-tau231 ROC area: 0.7918</text>
<line x1="377.9" y1="717.6" x2="404.1" y2="717.6" stroke="#aa6470" stroke-width="1"/>
<circle cx="391" cy="717.6" r="2.3" fill="#982e3e"/>
<text x="409.4" y="720.66" font-size="8.5" fill="#141414" class="t">p-tau231 + SOST ROC area: 0.8159</text>
<line x1="375.8" y1="914.2" x2="675.1" y2="914.2" stroke="#f5f7f7" stroke-width="1"/>
<line x1="380.7" y1="749.1" x2="380.7" y2="919.2" stroke="#f5f7f7" stroke-width="1"/>
<line x1="375.8" y1="874.2" x2="675.1" y2="874.2" stroke="#f5f7f7" stroke-width="1"/>
<line x1="453.2" y1="749.1" x2="453.2" y2="919.2" stroke="#f5f7f7" stroke-width="1"/>
<line x1="375.8" y1="834.2" x2="675.1" y2="834.2" stroke="#f5f7f7" stroke-width="1"/>
<line x1="525.7" y1="749.1" x2="525.7" y2="919.2" stroke="#f5f7f7" stroke-width="1"/>
<line x1="375.8" y1="794.2" x2="675.1" y2="794.2" stroke="#f5f7f7" stroke-width="1"/>
<line x1="598.2" y1="749.1" x2="598.2" y2="919.2" stroke="#f5f7f7" stroke-width="1"/>
<line x1="375.8" y1="754.2" x2="675.1" y2="754.2" stroke="#f5f7f7" stroke-width="1"/>
<line x1="670.7" y1="749.1" x2="670.7" y2="919.2" stroke="#f5f7f7" stroke-width="1"/>
<rect x="375" y="750.2" width="37" height="29.6" fill="#fff"/>
<rect x="582.7" y="880.3" width="81" height="29.5" fill="#fff"/>
<line x1="375.8" y1="749.1" x2="375.8" y2="919.2" stroke="#8c8c8c" stroke-width="1.2"/>
<line x1="375.8" y1="919.2" x2="675.1" y2="919.2" stroke="#a4a4a4" stroke-width="1.7"/>
<line x1="372.2" y1="914.2" x2="375.8" y2="914.2" stroke="#8c8c8c" stroke-width="1"/>
<line x1="380.7" y1="919.2" x2="380.7" y2="922.6" stroke="#8c8c8c" stroke-width="1"/>
<text transform="translate(365.2,914.2) rotate(-90)" y="2.94" font-size="8.4" text-anchor="middle" fill="#141414" class="t">0.00</text>
<text x="380.7" y="932.44" font-size="8.4" text-anchor="middle" fill="#141414" class="t">0.00</text>
<line x1="372.2" y1="874.2" x2="375.8" y2="874.2" stroke="#8c8c8c" stroke-width="1"/>
<line x1="453.2" y1="919.2" x2="453.2" y2="922.6" stroke="#8c8c8c" stroke-width="1"/>
<text transform="translate(365.2,874.2) rotate(-90)" y="2.94" font-size="8.4" text-anchor="middle" fill="#141414" class="t">0.25</text>
<text x="453.2" y="932.44" font-size="8.4" text-anchor="middle" fill="#141414" class="t">0.25</text>
<line x1="372.2" y1="834.2" x2="375.8" y2="834.2" stroke="#8c8c8c" stroke-width="1"/>
<line x1="525.7" y1="919.2" x2="525.7" y2="922.6" stroke="#8c8c8c" stroke-width="1"/>
<text transform="translate(365.2,834.2) rotate(-90)" y="2.94" font-size="8.4" text-anchor="middle" fill="#141414" class="t">0.50</text>
<text x="525.7" y="932.44" font-size="8.4" text-anchor="middle" fill="#141414" class="t">0.50</text>
<line x1="372.2" y1="794.2" x2="375.8" y2="794.2" stroke="#8c8c8c" stroke-width="1"/>
<line x1="598.2" y1="919.2" x2="598.2" y2="922.6" stroke="#8c8c8c" stroke-width="1"/>
<text transform="translate(365.2,794.2) rotate(-90)" y="2.94" font-size="8.4" text-anchor="middle" fill="#141414" class="t">0.75</text>
<text x="598.2" y="932.44" font-size="8.4" text-anchor="middle" fill="#141414" class="t">0.75</text>
<line x1="372.2" y1="754.2" x2="375.8" y2="754.2" stroke="#8c8c8c" stroke-width="1"/>
<line x1="670.7" y1="919.2" x2="670.7" y2="922.6" stroke="#8c8c8c" stroke-width="1"/>
<text transform="translate(365.2,754.2) rotate(-90)" y="2.94" font-size="8.4" text-anchor="middle" fill="#141414" class="t">1.00</text>
<text x="670.7" y="932.44" font-size="8.4" text-anchor="middle" fill="#141414" class="t">1.00</text>
<text transform="translate(355.4,834) rotate(-90)" y="3.06" font-size="8.5" text-anchor="middle" fill="#141414" class="t">Sensitivity</text>
<text x="525.7" y="940.96" font-size="8.5" text-anchor="middle" fill="#141414" class="t">1-specificity</text>
<line x1="380.7" y1="914.2" x2="670.7" y2="754.2" stroke="#58887e" stroke-width="1"/>
<path d="M380.7 900.49L380.7 895.91L380.7 891.34L380.7 886.77L380.7 882.2L385.16 882.2L389.62 877.63L394.08 873.06M394.08 863.91L398.55 859.34L403.01 859.34L407.47 854.77L407.47 850.2L411.93 850.2L416.39 850.2L420.85 850.2L425.32 850.2L425.32 845.63L425.32 841.06L425.32 831.91L425.32 827.34L429.78 827.34L438.7 827.34L443.16 827.34L447.62 822.77L452.08 822.77L456.55 822.77L461.01 822.77L461.01 818.2L465.47 818.2L465.47 813.63L469.93 813.63L474.39 813.63L478.85 813.63L487.78 809.06L492.24 804.49L492.24 799.91L492.24 795.34L492.24 786.2L496.7 781.63L501.16 781.63L505.62 781.63L505.62 777.06L510.08 777.06L514.55 777.06L519.01 772.49M523.47 772.49L527.93 772.49L532.39 772.49L536.85 767.91L559.16 767.91L563.62 763.34L572.55 763.34L577.01 763.34L581.47 763.34L585.93 763.34L590.39 763.34L594.85 763.34L599.32 758.77L603.78 758.77L608.24 758.77L612.7 758.77L639.47 758.77L643.93 754.2L648.39 754.2L670.7 754.2" fill="none" stroke="#587590" stroke-width="1"/>
<g fill="#1c4c7c"><circle cx="380.7" cy="895.91" r="2.3"/><circle cx="380.7" cy="891.34" r="2.3"/><circle cx="380.7" cy="886.77" r="2.3"/><circle cx="380.7" cy="882.2" r="2.3"/><circle cx="385.16" cy="882.2" r="2.3"/><circle cx="389.62" cy="877.63" r="2.3"/><circle cx="403.01" cy="859.34" r="2.3"/><circle cx="407.47" cy="854.77" r="2.3"/><circle cx="407.47" cy="850.2" r="2.3"/><circle cx="411.93" cy="850.2" r="2.3"/><circle cx="416.39" cy="850.2" r="2.3"/><circle cx="420.85" cy="850.2" r="2.3"/><circle cx="425.32" cy="850.2" r="2.3"/><circle cx="425.32" cy="845.63" r="2.3"/><circle cx="425.32" cy="841.06" r="2.3"/><circle cx="425.32" cy="831.91" r="2.3"/><circle cx="425.32" cy="827.34" r="2.3"/><circle cx="429.78" cy="827.34" r="2.3"/><circle cx="438.7" cy="827.34" r="2.3"/><circle cx="443.16" cy="827.34" r="2.3"/><circle cx="447.62" cy="822.77" r="2.3"/><circle cx="452.08" cy="822.77" r="2.3"/><circle cx="456.55" cy="822.77" r="2.3"/><circle cx="461.01" cy="822.77" r="2.3"/><circle cx="461.01" cy="818.2" r="2.3"/><circle cx="465.47" cy="818.2" r="2.3"/><circle cx="465.47" cy="813.63" r="2.3"/><circle cx="469.93" cy="813.63" r="2.3"/><circle cx="474.39" cy="813.63" r="2.3"/><circle cx="478.85" cy="813.63" r="2.3"/><circle cx="487.78" cy="809.06" r="2.3"/><circle cx="492.24" cy="804.49" r="2.3"/><circle cx="492.24" cy="799.91" r="2.3"/><circle cx="492.24" cy="795.34" r="2.3"/><circle cx="501.16" cy="781.63" r="2.3"/><circle cx="505.62" cy="781.63" r="2.3"/><circle cx="505.62" cy="777.06" r="2.3"/><circle cx="510.08" cy="777.06" r="2.3"/><circle cx="514.55" cy="777.06" r="2.3"/><circle cx="527.93" cy="772.49" r="2.3"/><circle cx="532.39" cy="772.49" r="2.3"/><circle cx="563.62" cy="763.34" r="2.3"/><circle cx="572.55" cy="763.34" r="2.3"/><circle cx="577.01" cy="763.34" r="2.3"/><circle cx="581.47" cy="763.34" r="2.3"/><circle cx="585.93" cy="763.34" r="2.3"/><circle cx="590.39" cy="763.34" r="2.3"/><circle cx="594.85" cy="763.34" r="2.3"/><circle cx="599.32" cy="758.77" r="2.3"/><circle cx="603.78" cy="758.77" r="2.3"/><circle cx="608.24" cy="758.77" r="2.3"/><circle cx="612.7" cy="758.77" r="2.3"/><circle cx="643.93" cy="754.2" r="2.3"/><circle cx="648.39" cy="754.2" r="2.3"/></g>
<polyline points="380.7,914.2 380.7,909.63 380.7,905.06 380.7,900.49 385.16,900.49 385.16,895.91 385.16,891.34 385.16,886.77 389.62,886.77 389.62,882.2 394.08,882.2 394.08,877.63 394.08,873.06 394.08,868.49 394.08,863.91 398.55,863.91 398.55,859.34 398.55,854.77 403.01,854.77 403.01,850.2 403.01,845.63 407.47,845.63 407.47,841.06 411.93,841.06 411.93,836.49 411.93,831.91 411.93,827.34 416.39,827.34 416.39,822.77 420.85,822.77 425.32,822.77 429.78,822.77 429.78,818.2 434.24,818.2 438.7,818.2 443.16,818.2 447.62,818.2 447.62,813.63 447.62,809.06 447.62,804.49 452.08,804.49 452.08,799.91 456.55,799.91 461.01,799.91 465.47,799.91 465.47,795.34 465.47,790.77 469.93,790.77 474.39,790.77 478.85,790.77 483.32,790.77 483.32,786.2 487.78,786.2 492.24,786.2 492.24,781.63 496.7,781.63 496.7,777.06 501.16,777.06 501.16,772.49 505.62,772.49 510.08,772.49 514.55,772.49 519.01,772.49 523.47,772.49 523.47,767.91 527.93,767.91 532.39,767.91 536.85,767.91 541.32,767.91 545.78,767.91 550.24,767.91 554.7,767.91 559.16,767.91 563.62,767.91 568.08,767.91 572.55,767.91 577.01,767.91 581.47,767.91 585.93,767.91 590.39,767.91 594.85,767.91 599.32,767.91 603.78,767.91 608.24,767.91 608.24,763.34 612.7,763.34 617.16,763.34 621.62,763.34 621.62,758.77 626.08,758.77 630.55,758.77 635.01,758.77 639.47,758.77 643.93,758.77 648.39,758.77 652.85,758.77 652.85,754.2 657.32,754.2 661.78,754.2 666.24,754.2 670.7,754.2" fill="none" stroke="#a0505c" stroke-width="1"/>
<g fill="#982e3e"><circle cx="380.7" cy="914.2" r="2.3"/><circle cx="380.7" cy="909.63" r="2.3"/><circle cx="380.7" cy="905.06" r="2.3"/><circle cx="380.7" cy="900.49" r="2.3"/><circle cx="385.16" cy="900.49" r="2.3"/><circle cx="385.16" cy="895.91" r="2.3"/><circle cx="385.16" cy="891.34" r="2.3"/><circle cx="385.16" cy="886.77" r="2.3"/><circle cx="389.62" cy="886.77" r="2.3"/><circle cx="389.62" cy="882.2" r="2.3"/><circle cx="394.08" cy="882.2" r="2.3"/><circle cx="394.08" cy="877.63" r="2.3"/><circle cx="394.08" cy="873.06" r="2.3"/><circle cx="394.08" cy="868.49" r="2.3"/><circle cx="394.08" cy="863.91" r="2.3"/><circle cx="398.55" cy="863.91" r="2.3"/><circle cx="398.55" cy="859.34" r="2.3"/><circle cx="398.55" cy="854.77" r="2.3"/><circle cx="403.01" cy="854.77" r="2.3"/><circle cx="403.01" cy="850.2" r="2.3"/><circle cx="403.01" cy="845.63" r="2.3"/><circle cx="407.47" cy="845.63" r="2.3"/><circle cx="407.47" cy="841.06" r="2.3"/><circle cx="411.93" cy="841.06" r="2.3"/><circle cx="411.93" cy="836.49" r="2.3"/><circle cx="411.93" cy="831.91" r="2.3"/><circle cx="411.93" cy="827.34" r="2.3"/><circle cx="416.39" cy="827.34" r="2.3"/><circle cx="416.39" cy="822.77" r="2.3"/><circle cx="420.85" cy="822.77" r="2.3"/><circle cx="425.32" cy="822.77" r="2.3"/><circle cx="429.78" cy="822.77" r="2.3"/><circle cx="429.78" cy="818.2" r="2.3"/><circle cx="434.24" cy="818.2" r="2.3"/><circle cx="438.7" cy="818.2" r="2.3"/><circle cx="443.16" cy="818.2" r="2.3"/><circle cx="447.62" cy="818.2" r="2.3"/><circle cx="447.62" cy="813.63" r="2.3"/><circle cx="447.62" cy="809.06" r="2.3"/><circle cx="447.62" cy="804.49" r="2.3"/><circle cx="452.08" cy="804.49" r="2.3"/><circle cx="452.08" cy="799.91" r="2.3"/><circle cx="456.55" cy="799.91" r="2.3"/><circle cx="461.01" cy="799.91" r="2.3"/><circle cx="465.47" cy="799.91" r="2.3"/><circle cx="465.47" cy="795.34" r="2.3"/><circle cx="465.47" cy="790.77" r="2.3"/><circle cx="469.93" cy="790.77" r="2.3"/><circle cx="474.39" cy="790.77" r="2.3"/><circle cx="478.85" cy="790.77" r="2.3"/><circle cx="483.32" cy="790.77" r="2.3"/><circle cx="483.32" cy="786.2" r="2.3"/><circle cx="487.78" cy="786.2" r="2.3"/><circle cx="492.24" cy="786.2" r="2.3"/><circle cx="492.24" cy="781.63" r="2.3"/><circle cx="496.7" cy="781.63" r="2.3"/><circle cx="496.7" cy="777.06" r="2.3"/><circle cx="501.16" cy="777.06" r="2.3"/><circle cx="501.16" cy="772.49" r="2.3"/><circle cx="505.62" cy="772.49" r="2.3"/><circle cx="510.08" cy="772.49" r="2.3"/><circle cx="514.55" cy="772.49" r="2.3"/><circle cx="519.01" cy="772.49" r="2.3"/><circle cx="523.47" cy="772.49" r="2.3"/><circle cx="523.47" cy="767.91" r="2.3"/><circle cx="527.93" cy="767.91" r="2.3"/><circle cx="532.39" cy="767.91" r="2.3"/><circle cx="536.85" cy="767.91" r="2.3"/><circle cx="541.32" cy="767.91" r="2.3"/><circle cx="545.78" cy="767.91" r="2.3"/><circle cx="550.24" cy="767.91" r="2.3"/><circle cx="554.7" cy="767.91" r="2.3"/><circle cx="559.16" cy="767.91" r="2.3"/><circle cx="563.62" cy="767.91" r="2.3"/><circle cx="568.08" cy="767.91" r="2.3"/><circle cx="572.55" cy="767.91" r="2.3"/><circle cx="577.01" cy="767.91" r="2.3"/><circle cx="581.47" cy="767.91" r="2.3"/><circle cx="585.93" cy="767.91" r="2.3"/><circle cx="590.39" cy="767.91" r="2.3"/><circle cx="594.85" cy="767.91" r="2.3"/><circle cx="599.32" cy="767.91" r="2.3"/><circle cx="603.78" cy="767.91" r="2.3"/><circle cx="608.24" cy="767.91" r="2.3"/><circle cx="608.24" cy="763.34" r="2.3"/><circle cx="612.7" cy="763.34" r="2.3"/><circle cx="617.16" cy="763.34" r="2.3"/><circle cx="621.62" cy="763.34" r="2.3"/><circle cx="621.62" cy="758.77" r="2.3"/><circle cx="626.08" cy="758.77" r="2.3"/><circle cx="630.55" cy="758.77" r="2.3"/><circle cx="635.01" cy="758.77" r="2.3"/><circle cx="639.47" cy="758.77" r="2.3"/><circle cx="643.93" cy="758.77" r="2.3"/><circle cx="648.39" cy="758.77" r="2.3"/><circle cx="652.85" cy="758.77" r="2.3"/><circle cx="652.85" cy="754.2" r="2.3"/><circle cx="657.32" cy="754.2" r="2.3"/><circle cx="661.78" cy="754.2" r="2.3"/><circle cx="666.24" cy="754.2" r="2.3"/><circle cx="670.7" cy="754.2" r="2.3"/></g>
<text transform="translate(386.8,767.8) scale(1.0,1)" font-size="22.4" font-weight="bold" fill="#000">h</text>
<text x="592.7" y="901.8" font-size="14.3" font-weight="bold" fill="#000"><tspan font-style="italic">P</tspan> = 0.2473</text>
<rect x="378.4" y="948.2" width="294" height="26.8" fill="none" stroke="#8c8c8c" stroke-width="1"/>
<line x1="383.1" y1="959.2" x2="411.2" y2="959.2" stroke="#5f7c98" stroke-width="1"/>
<circle cx="397.6" cy="959.2" r="2.3" fill="#1c4c7c"/>
<text x="415.2" y="962.26" font-size="8.5" fill="#141414" class="t">GFAP ROC area: 0.7622</text>
<line x1="383.1" y1="968.4" x2="411.2" y2="968.4" stroke="#aa6470" stroke-width="1"/>
<circle cx="397.6" cy="968.4" r="2.3" fill="#982e3e"/>
<text x="415.2" y="971.46" font-size="8.5" fill="#141414" class="t">GFAP+SOST ROC area: 0.7895</text>
<line x1="371.5" y1="1162.3" x2="675.1" y2="1162.3" stroke="#f5f7f7" stroke-width="1"/>
<line x1="376.6" y1="996.6" x2="376.6" y2="1167.4" stroke="#f5f7f7" stroke-width="1"/>
<line x1="371.5" y1="1122.28" x2="675.1" y2="1122.28" stroke="#f5f7f7" stroke-width="1"/>
<line x1="450.05" y1="996.6" x2="450.05" y2="1167.4" stroke="#f5f7f7" stroke-width="1"/>
<line x1="371.5" y1="1082.25" x2="675.1" y2="1082.25" stroke="#f5f7f7" stroke-width="1"/>
<line x1="523.5" y1="996.6" x2="523.5" y2="1167.4" stroke="#f5f7f7" stroke-width="1"/>
<line x1="371.5" y1="1042.22" x2="675.1" y2="1042.22" stroke="#f5f7f7" stroke-width="1"/>
<line x1="596.95" y1="996.6" x2="596.95" y2="1167.4" stroke="#f5f7f7" stroke-width="1"/>
<line x1="371.5" y1="1002.2" x2="675.1" y2="1002.2" stroke="#f5f7f7" stroke-width="1"/>
<line x1="670.4" y1="996.6" x2="670.4" y2="1167.4" stroke="#f5f7f7" stroke-width="1"/>
<rect x="375.1" y="998.2" width="37" height="29.2" fill="#fff"/>
<rect x="582.7" y="1125.3" width="81" height="29.5" fill="#fff"/>
<line x1="371.5" y1="996.6" x2="371.5" y2="1167.4" stroke="#8c8c8c" stroke-width="1.2"/>
<line x1="371.5" y1="1167.4" x2="675.1" y2="1167.4" stroke="#a4a4a4" stroke-width="1.7"/>
<line x1="367.9" y1="1162.3" x2="371.5" y2="1162.3" stroke="#8c8c8c" stroke-width="1"/>
<line x1="376.6" y1="1167.4" x2="376.6" y2="1170.8" stroke="#8c8c8c" stroke-width="1"/>
<text transform="translate(361.2,1162.3) rotate(-90)" y="2.94" font-size="8.4" text-anchor="middle" fill="#141414" class="t">0.00</text>
<text x="376.6" y="1180.94" font-size="8.4" text-anchor="middle" fill="#141414" class="t">0.00</text>
<line x1="367.9" y1="1122.28" x2="371.5" y2="1122.28" stroke="#8c8c8c" stroke-width="1"/>
<line x1="450.05" y1="1167.4" x2="450.05" y2="1170.8" stroke="#8c8c8c" stroke-width="1"/>
<text transform="translate(361.2,1122.28) rotate(-90)" y="2.94" font-size="8.4" text-anchor="middle" fill="#141414" class="t">0.25</text>
<text x="450.05" y="1180.94" font-size="8.4" text-anchor="middle" fill="#141414" class="t">0.25</text>
<line x1="367.9" y1="1082.25" x2="371.5" y2="1082.25" stroke="#8c8c8c" stroke-width="1"/>
<line x1="523.5" y1="1167.4" x2="523.5" y2="1170.8" stroke="#8c8c8c" stroke-width="1"/>
<text transform="translate(361.2,1082.25) rotate(-90)" y="2.94" font-size="8.4" text-anchor="middle" fill="#141414" class="t">0.50</text>
<text x="523.5" y="1180.94" font-size="8.4" text-anchor="middle" fill="#141414" class="t">0.50</text>
<line x1="367.9" y1="1042.22" x2="371.5" y2="1042.22" stroke="#8c8c8c" stroke-width="1"/>
<line x1="596.95" y1="1167.4" x2="596.95" y2="1170.8" stroke="#8c8c8c" stroke-width="1"/>
<text transform="translate(361.2,1042.22) rotate(-90)" y="2.94" font-size="8.4" text-anchor="middle" fill="#141414" class="t">0.75</text>
<text x="596.95" y="1180.94" font-size="8.4" text-anchor="middle" fill="#141414" class="t">0.75</text>
<line x1="367.9" y1="1002.2" x2="371.5" y2="1002.2" stroke="#8c8c8c" stroke-width="1"/>
<line x1="670.4" y1="1167.4" x2="670.4" y2="1170.8" stroke="#8c8c8c" stroke-width="1"/>
<text transform="translate(361.2,1002.2) rotate(-90)" y="2.94" font-size="8.4" text-anchor="middle" fill="#141414" class="t">1.00</text>
<text x="670.4" y="1180.94" font-size="8.4" text-anchor="middle" fill="#141414" class="t">1.00</text>
<text transform="translate(351,1083.7) rotate(-90)" y="3.06" font-size="8.5" text-anchor="middle" fill="#141414" class="t">Sensitivity</text>
<text x="523.5" y="1189.16" font-size="8.5" text-anchor="middle" fill="#141414" class="t">1-specificity</text>
<line x1="376.6" y1="1162.3" x2="670.4" y2="1002.2" stroke="#58887e" stroke-width="1"/>
<path d="M376.6 1152.6L376.6 1147.75L381.34 1147.75L386.08 1147.75L390.82 1147.75L390.82 1142.89L390.82 1138.04L390.82 1133.19L395.55 1133.19L400.29 1133.19L405.03 1133.19L409.77 1133.19L409.77 1128.34L409.77 1123.49L409.77 1118.64L414.51 1118.64L414.51 1113.78L414.51 1108.93L414.51 1104.08L419.25 1104.08L423.99 1104.08L423.99 1099.23L428.73 1099.23L428.73 1094.38L428.73 1089.53L433.46 1089.53L438.2 1089.53L442.94 1089.53L447.68 1089.53L452.42 1089.53L452.42 1084.68L457.16 1084.68L461.9 1084.68L466.64 1084.68L471.37 1084.68L476.11 1084.68L476.11 1079.82L480.85 1079.82L485.59 1079.82L490.33 1079.82L490.33 1074.97L495.07 1074.97L499.81 1074.97L499.81 1070.12L504.55 1070.12L504.55 1065.27L509.28 1065.27L509.28 1060.42L509.28 1055.57L509.28 1050.72L514.02 1050.72L514.02 1045.86L518.76 1045.86L523.5 1045.86L528.24 1045.86L532.98 1045.86L537.72 1045.86L537.72 1041.01L542.45 1041.01L547.19 1041.01L547.19 1036.16L551.93 1036.16L551.93 1031.31L556.67 1031.31L561.41 1031.31L561.41 1026.46L566.15 1026.46L566.15 1021.61L570.89 1021.61L575.63 1021.61L575.63 1016.75L575.63 1011.9L580.36 1011.9L585.1 1011.9L589.84 1011.9L589.84 1007.05L604.06 1007.05L608.8 1002.2L670.4 1002.2" fill="none" stroke="#587590" stroke-width="1"/>
<g fill="#1c4c7c"><circle cx="376.6" cy="1147.75" r="2.3"/><circle cx="386.08" cy="1147.75" r="2.3"/><circle cx="390.82" cy="1147.75" r="2.3"/><circle cx="390.82" cy="1142.89" r="2.3"/><circle cx="390.82" cy="1138.04" r="2.3"/><circle cx="390.82" cy="1133.19" r="2.3"/><circle cx="395.55" cy="1133.19" r="2.3"/><circle cx="400.29" cy="1133.19" r="2.3"/><circle cx="405.03" cy="1133.19" r="2.3"/><circle cx="409.77" cy="1133.19" r="2.3"/><circle cx="409.77" cy="1128.34" r="2.3"/><circle cx="409.77" cy="1123.49" r="2.3"/><circle cx="409.77" cy="1118.64" r="2.3"/><circle cx="414.51" cy="1118.64" r="2.3"/><circle cx="414.51" cy="1113.78" r="2.3"/><circle cx="414.51" cy="1108.93" r="2.3"/><circle cx="414.51" cy="1104.08" r="2.3"/><circle cx="419.25" cy="1104.08" r="2.3"/><circle cx="423.99" cy="1104.08" r="2.3"/><circle cx="423.99" cy="1099.23" r="2.3"/><circle cx="428.73" cy="1099.23" r="2.3"/><circle cx="428.73" cy="1094.38" r="2.3"/><circle cx="433.46" cy="1089.53" r="2.3"/><circle cx="438.2" cy="1089.53" r="2.3"/><circle cx="442.94" cy="1089.53" r="2.3"/><circle cx="447.68" cy="1089.53" r="2.3"/><circle cx="452.42" cy="1089.53" r="2.3"/><circle cx="452.42" cy="1084.68" r="2.3"/><circle cx="457.16" cy="1084.68" r="2.3"/><circle cx="461.9" cy="1084.68" r="2.3"/><circle cx="466.64" cy="1084.68" r="2.3"/><circle cx="471.37" cy="1084.68" r="2.3"/><circle cx="476.11" cy="1084.68" r="2.3"/><circle cx="476.11" cy="1079.82" r="2.3"/><circle cx="480.85" cy="1079.82" r="2.3"/><circle cx="485.59" cy="1079.82" r="2.3"/><circle cx="490.33" cy="1079.82" r="2.3"/><circle cx="490.33" cy="1074.97" r="2.3"/><circle cx="495.07" cy="1074.97" r="2.3"/><circle cx="499.81" cy="1074.97" r="2.3"/><circle cx="499.81" cy="1070.12" r="2.3"/><circle cx="504.55" cy="1070.12" r="2.3"/><circle cx="504.55" cy="1065.27" r="2.3"/><circle cx="509.28" cy="1065.27" r="2.3"/><circle cx="509.28" cy="1060.42" r="2.3"/><circle cx="509.28" cy="1055.57" r="2.3"/><circle cx="509.28" cy="1050.72" r="2.3"/><circle cx="514.02" cy="1050.72" r="2.3"/><circle cx="514.02" cy="1045.86" r="2.3"/><circle cx="518.76" cy="1045.86" r="2.3"/><circle cx="523.5" cy="1045.86" r="2.3"/><circle cx="528.24" cy="1045.86" r="2.3"/><circle cx="532.98" cy="1045.86" r="2.3"/><circle cx="537.72" cy="1045.86" r="2.3"/><circle cx="537.72" cy="1041.01" r="2.3"/><circle cx="542.45" cy="1041.01" r="2.3"/><circle cx="547.19" cy="1041.01" r="2.3"/><circle cx="547.19" cy="1036.16" r="2.3"/><circle cx="551.93" cy="1036.16" r="2.3"/><circle cx="551.93" cy="1031.31" r="2.3"/><circle cx="556.67" cy="1031.31" r="2.3"/><circle cx="561.41" cy="1031.31" r="2.3"/><circle cx="561.41" cy="1026.46" r="2.3"/><circle cx="566.15" cy="1026.46" r="2.3"/><circle cx="566.15" cy="1021.61" r="2.3"/><circle cx="570.89" cy="1021.61" r="2.3"/><circle cx="575.63" cy="1021.61" r="2.3"/><circle cx="575.63" cy="1016.75" r="2.3"/><circle cx="575.63" cy="1011.9" r="2.3"/><circle cx="580.36" cy="1011.9" r="2.3"/><circle cx="585.1" cy="1011.9" r="2.3"/><circle cx="589.84" cy="1011.9" r="2.3"/><circle cx="608.8" cy="1002.2" r="2.3"/></g>
<polyline points="376.6,1162.3 376.6,1157.45 376.6,1152.6 381.34,1152.6 381.34,1147.75 381.34,1142.89 386.08,1142.89 386.08,1138.04 386.08,1133.19 386.08,1128.34 390.82,1128.34 395.55,1128.34 400.29,1128.34 400.29,1123.49 405.03,1123.49 405.03,1118.64 405.03,1113.78 405.03,1108.93 409.77,1108.93 409.77,1104.08 409.77,1099.23 409.77,1094.38 409.77,1089.53 414.51,1089.53 419.25,1089.53 423.99,1089.53 428.73,1089.53 428.73,1084.68 433.46,1084.68 438.2,1084.68 438.2,1079.82 442.94,1079.82 442.94,1074.97 447.68,1074.97 452.42,1074.97 457.16,1074.97 457.16,1070.12 461.9,1070.12 466.64,1070.12 466.64,1065.27 471.37,1065.27 471.37,1060.42 471.37,1055.57 476.11,1055.57 476.11,1050.72 476.11,1045.86 480.85,1045.86 485.59,1045.86 485.59,1041.01 485.59,1036.16 490.33,1036.16 490.33,1031.31 495.07,1031.31 495.07,1026.46 499.81,1026.46 499.81,1021.61 504.55,1021.61 504.55,1016.75 509.28,1016.75 514.02,1016.75 514.02,1011.9 518.76,1011.9 523.5,1011.9 528.24,1011.9 528.24,1007.05 532.98,1007.05 537.72,1007.05 542.45,1007.05 547.19,1007.05 551.93,1007.05 556.67,1007.05 561.41,1007.05 566.15,1007.05 570.89,1007.05 575.63,1007.05 580.36,1007.05 585.1,1007.05 589.84,1007.05 594.58,1007.05 599.32,1007.05 604.06,1007.05 608.8,1007.05 613.54,1007.05 613.54,1002.2 618.27,1002.2 623.01,1002.2 627.75,1002.2 632.49,1002.2 637.23,1002.2 641.97,1002.2 646.71,1002.2 651.45,1002.2 656.18,1002.2 660.92,1002.2 665.66,1002.2 670.4,1002.2" fill="none" stroke="#a0505c" stroke-width="1"/>
<g fill="#982e3e"><circle cx="376.6" cy="1162.3" r="2.3"/><circle cx="376.6" cy="1157.45" r="2.3"/><circle cx="376.6" cy="1152.6" r="2.3"/><circle cx="381.34" cy="1152.6" r="2.3"/><circle cx="381.34" cy="1147.75" r="2.3"/><circle cx="381.34" cy="1142.89" r="2.3"/><circle cx="386.08" cy="1142.89" r="2.3"/><circle cx="386.08" cy="1138.04" r="2.3"/><circle cx="386.08" cy="1133.19" r="2.3"/><circle cx="386.08" cy="1128.34" r="2.3"/><circle cx="390.82" cy="1128.34" r="2.3"/><circle cx="395.55" cy="1128.34" r="2.3"/><circle cx="400.29" cy="1128.34" r="2.3"/><circle cx="400.29" cy="1123.49" r="2.3"/><circle cx="405.03" cy="1123.49" r="2.3"/><circle cx="405.03" cy="1118.64" r="2.3"/><circle cx="405.03" cy="1113.78" r="2.3"/><circle cx="405.03" cy="1108.93" r="2.3"/><circle cx="409.77" cy="1108.93" r="2.3"/><circle cx="409.77" cy="1104.08" r="2.3"/><circle cx="409.77" cy="1099.23" r="2.3"/><circle cx="409.77" cy="1094.38" r="2.3"/><circle cx="409.77" cy="1089.53" r="2.3"/><circle cx="414.51" cy="1089.53" r="2.3"/><circle cx="419.25" cy="1089.53" r="2.3"/><circle cx="423.99" cy="1089.53" r="2.3"/><circle cx="428.73" cy="1089.53" r="2.3"/><circle cx="428.73" cy="1084.68" r="2.3"/><circle cx="433.46" cy="1084.68" r="2.3"/><circle cx="438.2" cy="1084.68" r="2.3"/><circle cx="438.2" cy="1079.82" r="2.3"/><circle cx="442.94" cy="1079.82" r="2.3"/><circle cx="442.94" cy="1074.97" r="2.3"/><circle cx="447.68" cy="1074.97" r="2.3"/><circle cx="452.42" cy="1074.97" r="2.3"/><circle cx="457.16" cy="1074.97" r="2.3"/><circle cx="457.16" cy="1070.12" r="2.3"/><circle cx="461.9" cy="1070.12" r="2.3"/><circle cx="466.64" cy="1070.12" r="2.3"/><circle cx="466.64" cy="1065.27" r="2.3"/><circle cx="471.37" cy="1065.27" r="2.3"/><circle cx="471.37" cy="1060.42" r="2.3"/><circle cx="471.37" cy="1055.57" r="2.3"/><circle cx="476.11" cy="1055.57" r="2.3"/><circle cx="476.11" cy="1050.72" r="2.3"/><circle cx="476.11" cy="1045.86" r="2.3"/><circle cx="480.85" cy="1045.86" r="2.3"/><circle cx="485.59" cy="1045.86" r="2.3"/><circle cx="485.59" cy="1041.01" r="2.3"/><circle cx="485.59" cy="1036.16" r="2.3"/><circle cx="490.33" cy="1036.16" r="2.3"/><circle cx="490.33" cy="1031.31" r="2.3"/><circle cx="495.07" cy="1031.31" r="2.3"/><circle cx="495.07" cy="1026.46" r="2.3"/><circle cx="499.81" cy="1026.46" r="2.3"/><circle cx="499.81" cy="1021.61" r="2.3"/><circle cx="504.55" cy="1021.61" r="2.3"/><circle cx="504.55" cy="1016.75" r="2.3"/><circle cx="509.28" cy="1016.75" r="2.3"/><circle cx="514.02" cy="1016.75" r="2.3"/><circle cx="514.02" cy="1011.9" r="2.3"/><circle cx="518.76" cy="1011.9" r="2.3"/><circle cx="523.5" cy="1011.9" r="2.3"/><circle cx="528.24" cy="1011.9" r="2.3"/><circle cx="528.24" cy="1007.05" r="2.3"/><circle cx="532.98" cy="1007.05" r="2.3"/><circle cx="537.72" cy="1007.05" r="2.3"/><circle cx="542.45" cy="1007.05" r="2.3"/><circle cx="547.19" cy="1007.05" r="2.3"/><circle cx="551.93" cy="1007.05" r="2.3"/><circle cx="556.67" cy="1007.05" r="2.3"/><circle cx="561.41" cy="1007.05" r="2.3"/><circle cx="566.15" cy="1007.05" r="2.3"/><circle cx="570.89" cy="1007.05" r="2.3"/><circle cx="575.63" cy="1007.05" r="2.3"/><circle cx="580.36" cy="1007.05" r="2.3"/><circle cx="585.1" cy="1007.05" r="2.3"/><circle cx="589.84" cy="1007.05" r="2.3"/><circle cx="594.58" cy="1007.05" r="2.3"/><circle cx="599.32" cy="1007.05" r="2.3"/><circle cx="604.06" cy="1007.05" r="2.3"/><circle cx="608.8" cy="1007.05" r="2.3"/><circle cx="613.54" cy="1007.05" r="2.3"/><circle cx="613.54" cy="1002.2" r="2.3"/><circle cx="618.27" cy="1002.2" r="2.3"/><circle cx="623.01" cy="1002.2" r="2.3"/><circle cx="627.75" cy="1002.2" r="2.3"/><circle cx="632.49" cy="1002.2" r="2.3"/><circle cx="637.23" cy="1002.2" r="2.3"/><circle cx="641.97" cy="1002.2" r="2.3"/><circle cx="646.71" cy="1002.2" r="2.3"/><circle cx="651.45" cy="1002.2" r="2.3"/><circle cx="656.18" cy="1002.2" r="2.3"/><circle cx="660.92" cy="1002.2" r="2.3"/><circle cx="665.66" cy="1002.2" r="2.3"/><circle cx="670.4" cy="1002.2" r="2.3"/></g>
<text transform="translate(386.9,1015.4) scale(1.0,1)" font-size="22.4" font-weight="bold" fill="#000">i</text>
<text x="592.7" y="1146.8" font-size="14.3" font-weight="bold" fill="#f01414"><tspan font-style="italic">P</tspan> = 0.0269</text>
<rect x="374.5" y="1196.1" width="297.9" height="27.5" fill="none" stroke="#8c8c8c" stroke-width="1"/>
<line x1="378.4" y1="1206.5" x2="401.5" y2="1206.5" stroke="#5f7c98" stroke-width="1"/>
<circle cx="390.2" cy="1206.5" r="2.3" fill="#1c4c7c"/>
<text x="405.2" y="1209.56" font-size="8.5" fill="#141414" class="t">Aβ1-42/Aβ1-40 ROC area: 0.6691</text>
<line x1="378.4" y1="1217.8" x2="401.5" y2="1217.8" stroke="#aa6470" stroke-width="1"/>
<circle cx="390.2" cy="1217.8" r="2.3" fill="#982e3e"/>
<text x="405.2" y="1220.86" font-size="8.5" fill="#141414" class="t">Aβ1-42/Aβ1-40 + SOST ROC area: 0.7683</text>
</svg>
</body></html>
